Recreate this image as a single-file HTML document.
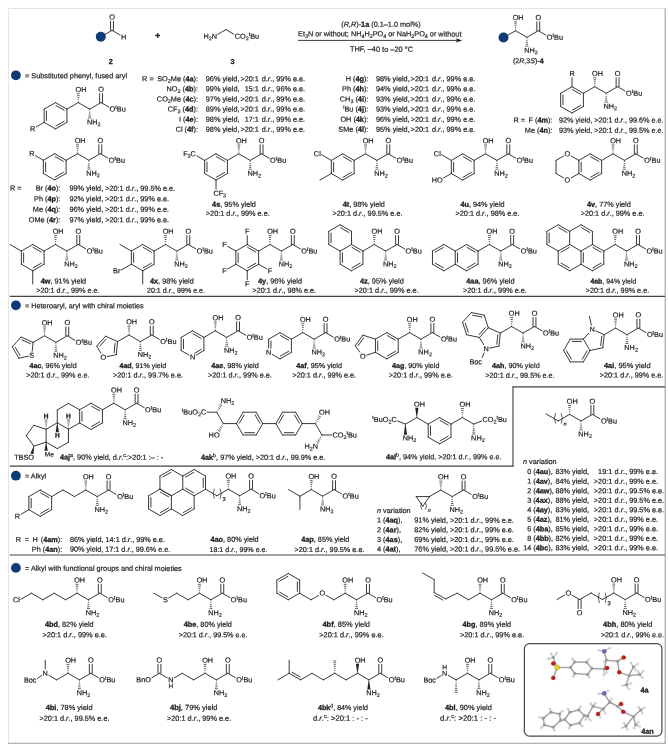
<!DOCTYPE html>
<html><head><meta charset="utf-8"><title>Substrate scope</title>
<style>
html,body{margin:0;padding:0;background:#fff;}
svg{display:block;will-change:transform;text-rendering:geometricPrecision;font-family:"Liberation Sans",sans-serif;}
</style></head><body>
<svg width="668" height="749" viewBox="0 0 668 749">
<rect x="0" y="0" width="668" height="749" fill="#fff"/>
<g stroke="#222222" stroke-width="0.90" stroke-linecap="round" fill="none">
<path d="M8.50 8.50L665.20 8.50" stroke="#e4e4e4" stroke-width="1.00" stroke-linecap="butt"/>
<path d="M8.50 8.50L8.50 743.30" stroke="#e4e4e4" stroke-width="1.00" stroke-linecap="butt"/>
<path d="M665.20 8.50L665.20 743.80" stroke="#9c9c9c" stroke-width="1.10" stroke-linecap="butt"/>
<path d="M8.00 743.30L665.70 743.30" stroke="#9c9c9c" stroke-width="1.10" stroke-linecap="butt"/>
<path d="M9.80 296.40L665.00 296.40" stroke="#444444" stroke-width="1.15" stroke-linecap="butt"/>
<path d="M9.80 466.10L513.50 466.10" stroke="#444444" stroke-width="1.15" stroke-linecap="butt"/>
<path d="M513.00 386.80L513.00 466.60" stroke="#444444" stroke-width="1.15" stroke-linecap="butt"/>
<path d="M512.50 386.80L665.00 386.80" stroke="#444444" stroke-width="1.15" stroke-linecap="butt"/>
<path d="M9.80 555.00L665.00 555.00" stroke="#444444" stroke-width="1.15" stroke-linecap="butt"/>
<circle cx="15.90" cy="75.30" r="4.90" fill="#0f3a78" stroke="none"/>
<circle cx="15.90" cy="305.30" r="4.90" fill="#0f3a78" stroke="none"/>
<circle cx="15.90" cy="475.70" r="4.90" fill="#0f3a78" stroke="none"/>
<circle cx="15.90" cy="567.90" r="4.90" fill="#0f3a78" stroke="none"/>
<path d="M100.50 37.00L112.00 30.40"/>
<path d="M113.45 30.40L113.45 21.21"/>
<path d="M110.55 30.40L110.55 21.21"/>
<path d="M112.00 30.40L120.06 34.99"/>
<circle cx="100.80" cy="36.80" r="5.00" fill="#0f3a78" stroke="none"/>
<path d="M217.84 34.28L226.00 29.60"/>
<path d="M226.00 29.60L233.86 34.22"/>
<path d="M298.00 40.40L459.00 40.40" stroke-linecap="butt"/>
<polygon points="462.30,40.40 455.80,38.30 457.20,40.40 455.80,42.50" fill="#222222" stroke="none"/>
<path d="M515.50 30.70L504.11 37.27"/>
<path d="M515.50 30.70L526.89 37.27"/>
<path d="M526.89 37.27L538.28 30.70"/>
<path d="M538.28 30.70L545.93 35.12"/>
<path d="M539.73 30.70L539.73 21.76"/>
<path d="M536.83 30.70L536.83 21.76"/>
<path d="M515.15 29.54L515.85 29.54" stroke-width="0.70" stroke-linecap="butt"/>
<path d="M514.85 27.62L516.15 27.62" stroke-width="0.70" stroke-linecap="butt"/>
<path d="M514.56 25.69L516.44 25.69" stroke-width="0.70" stroke-linecap="butt"/>
<path d="M514.26 23.76L516.74 23.76" stroke-width="0.70" stroke-linecap="butt"/>
<path d="M513.97 21.83L517.03 21.83" stroke-width="0.70" stroke-linecap="butt"/>
<path d="M527.24 38.43L526.54 38.43" stroke-width="0.70" stroke-linecap="butt"/>
<path d="M527.54 40.34L526.24 40.34" stroke-width="0.70" stroke-linecap="butt"/>
<path d="M527.83 42.26L525.95 42.26" stroke-width="0.70" stroke-linecap="butt"/>
<path d="M528.13 44.18L525.65 44.18" stroke-width="0.70" stroke-linecap="butt"/>
<path d="M528.42 46.09L525.36 46.09" stroke-width="0.70" stroke-linecap="butt"/>
<circle cx="503.51" cy="37.48" r="5.00" fill="#0f3a78" stroke="none"/>
<path d="M78.30 102.60L66.91 109.17"/>
<path d="M78.30 102.60L89.69 109.17"/>
<path d="M89.69 109.17L101.08 102.60"/>
<path d="M101.08 102.60L108.73 107.02"/>
<path d="M102.53 102.60L102.53 93.66"/>
<path d="M99.63 102.60L99.63 93.66"/>
<path d="M77.95 101.44L78.65 101.44" stroke-width="0.70" stroke-linecap="butt"/>
<path d="M77.65 99.52L78.95 99.52" stroke-width="0.70" stroke-linecap="butt"/>
<path d="M77.36 97.59L79.24 97.59" stroke-width="0.70" stroke-linecap="butt"/>
<path d="M77.06 95.66L79.54 95.66" stroke-width="0.70" stroke-linecap="butt"/>
<path d="M76.77 93.73L79.83 93.73" stroke-width="0.70" stroke-linecap="butt"/>
<path d="M90.04 110.33L89.34 110.33" stroke-width="0.70" stroke-linecap="butt"/>
<path d="M90.34 112.24L89.04 112.24" stroke-width="0.70" stroke-linecap="butt"/>
<path d="M90.63 114.16L88.75 114.16" stroke-width="0.70" stroke-linecap="butt"/>
<path d="M90.93 116.08L88.45 116.08" stroke-width="0.70" stroke-linecap="butt"/>
<path d="M91.22 117.99L88.16 117.99" stroke-width="0.70" stroke-linecap="butt"/>
<path d="M55.52 102.60L66.91 109.17"/>
<path d="M55.96 105.51L64.18 110.25"/>
<path d="M66.91 109.17L66.91 122.33"/>
<path d="M66.91 122.33L55.52 128.90"/>
<path d="M64.18 121.25L55.96 125.99"/>
<path d="M55.52 128.90L44.14 122.33"/>
<path d="M44.14 122.33L44.14 109.17"/>
<path d="M46.44 120.50L46.44 111.00"/>
<path d="M44.14 109.17L55.52 102.60"/>
<path d="M44.14 122.33L36.28 126.86"/>
<path d="M594.80 86.70L583.41 93.28"/>
<path d="M594.80 86.70L606.19 93.28"/>
<path d="M606.19 93.28L617.58 86.70"/>
<path d="M617.58 86.70L625.23 91.12"/>
<path d="M619.03 86.70L619.03 77.76"/>
<path d="M616.13 86.70L616.13 77.76"/>
<path d="M594.45 85.54L595.15 85.54" stroke-width="0.70" stroke-linecap="butt"/>
<path d="M594.15 83.62L595.45 83.62" stroke-width="0.70" stroke-linecap="butt"/>
<path d="M593.86 81.69L595.74 81.69" stroke-width="0.70" stroke-linecap="butt"/>
<path d="M593.56 79.76L596.04 79.76" stroke-width="0.70" stroke-linecap="butt"/>
<path d="M593.27 77.83L596.33 77.83" stroke-width="0.70" stroke-linecap="butt"/>
<path d="M606.54 94.43L605.84 94.43" stroke-width="0.70" stroke-linecap="butt"/>
<path d="M606.84 96.34L605.54 96.34" stroke-width="0.70" stroke-linecap="butt"/>
<path d="M607.13 98.26L605.25 98.26" stroke-width="0.70" stroke-linecap="butt"/>
<path d="M607.43 100.18L604.95 100.18" stroke-width="0.70" stroke-linecap="butt"/>
<path d="M607.72 102.09L604.66 102.09" stroke-width="0.70" stroke-linecap="butt"/>
<path d="M572.02 86.70L583.41 93.28"/>
<path d="M572.46 89.61L580.68 94.35"/>
<path d="M583.41 93.28L583.41 106.43"/>
<path d="M583.41 106.43L572.02 113.00"/>
<path d="M580.68 105.35L572.46 110.09"/>
<path d="M572.02 113.00L560.64 106.43"/>
<path d="M560.64 106.43L560.64 93.28"/>
<path d="M562.94 104.60L562.94 95.10"/>
<path d="M560.64 93.28L572.02 86.70"/>
<path d="M572.02 86.70L572.02 77.76"/>
<path d="M77.50 153.70L66.11 160.27"/>
<path d="M77.50 153.70L88.89 160.27"/>
<path d="M88.89 160.27L100.28 153.70"/>
<path d="M100.28 153.70L107.93 158.12"/>
<path d="M101.73 153.70L101.73 144.76"/>
<path d="M98.83 153.70L98.83 144.76"/>
<path d="M77.15 152.54L77.85 152.54" stroke-width="0.70" stroke-linecap="butt"/>
<path d="M76.85 150.62L78.15 150.62" stroke-width="0.70" stroke-linecap="butt"/>
<path d="M76.56 148.69L78.44 148.69" stroke-width="0.70" stroke-linecap="butt"/>
<path d="M76.26 146.76L78.74 146.76" stroke-width="0.70" stroke-linecap="butt"/>
<path d="M75.97 144.83L79.03 144.83" stroke-width="0.70" stroke-linecap="butt"/>
<path d="M89.24 161.43L88.54 161.43" stroke-width="0.70" stroke-linecap="butt"/>
<path d="M89.54 163.34L88.24 163.34" stroke-width="0.70" stroke-linecap="butt"/>
<path d="M89.83 165.26L87.95 165.26" stroke-width="0.70" stroke-linecap="butt"/>
<path d="M90.13 167.18L87.65 167.18" stroke-width="0.70" stroke-linecap="butt"/>
<path d="M90.42 169.09L87.36 169.09" stroke-width="0.70" stroke-linecap="butt"/>
<path d="M54.72 153.70L66.11 160.27"/>
<path d="M55.16 156.61L63.38 161.35"/>
<path d="M66.11 160.27L66.11 173.42"/>
<path d="M66.11 173.42L54.72 180.00"/>
<path d="M63.38 172.35L55.16 177.09"/>
<path d="M54.72 180.00L43.34 173.42"/>
<path d="M43.34 173.42L43.34 160.27"/>
<path d="M45.64 171.60L45.64 162.10"/>
<path d="M43.34 160.27L54.72 153.70"/>
<path d="M43.34 160.27L35.48 155.74"/>
<path d="M238.80 153.80L227.41 160.38"/>
<path d="M238.80 153.80L250.19 160.38"/>
<path d="M250.19 160.38L261.58 153.80"/>
<path d="M261.58 153.80L269.23 158.22"/>
<path d="M263.03 153.80L263.03 144.86"/>
<path d="M260.13 153.80L260.13 144.86"/>
<path d="M238.45 152.64L239.15 152.64" stroke-width="0.70" stroke-linecap="butt"/>
<path d="M238.15 150.72L239.45 150.72" stroke-width="0.70" stroke-linecap="butt"/>
<path d="M237.86 148.79L239.74 148.79" stroke-width="0.70" stroke-linecap="butt"/>
<path d="M237.56 146.86L240.04 146.86" stroke-width="0.70" stroke-linecap="butt"/>
<path d="M237.27 144.93L240.33 144.93" stroke-width="0.70" stroke-linecap="butt"/>
<path d="M250.54 161.53L249.84 161.53" stroke-width="0.70" stroke-linecap="butt"/>
<path d="M250.84 163.44L249.54 163.44" stroke-width="0.70" stroke-linecap="butt"/>
<path d="M251.13 165.36L249.25 165.36" stroke-width="0.70" stroke-linecap="butt"/>
<path d="M251.43 167.28L248.95 167.28" stroke-width="0.70" stroke-linecap="butt"/>
<path d="M251.72 169.19L248.66 169.19" stroke-width="0.70" stroke-linecap="butt"/>
<path d="M216.02 153.80L227.41 160.38"/>
<path d="M216.46 156.71L224.68 161.45"/>
<path d="M227.41 160.38L227.41 173.52"/>
<path d="M227.41 173.52L216.02 180.10"/>
<path d="M224.68 172.45L216.46 177.19"/>
<path d="M216.02 180.10L204.64 173.52"/>
<path d="M204.64 173.52L204.64 160.38"/>
<path d="M206.94 171.70L206.94 162.20"/>
<path d="M204.64 160.38L216.02 153.80"/>
<path d="M204.64 160.38L196.78 155.84"/>
<path d="M216.02 180.10L216.02 189.04"/>
<path d="M365.50 153.80L354.11 160.38"/>
<path d="M365.50 153.80L376.89 160.38"/>
<path d="M376.89 160.38L388.28 153.80"/>
<path d="M388.28 153.80L395.93 158.22"/>
<path d="M389.73 153.80L389.73 144.86"/>
<path d="M386.83 153.80L386.83 144.86"/>
<path d="M365.15 152.64L365.85 152.64" stroke-width="0.70" stroke-linecap="butt"/>
<path d="M364.85 150.72L366.15 150.72" stroke-width="0.70" stroke-linecap="butt"/>
<path d="M364.56 148.79L366.44 148.79" stroke-width="0.70" stroke-linecap="butt"/>
<path d="M364.26 146.86L366.74 146.86" stroke-width="0.70" stroke-linecap="butt"/>
<path d="M363.97 144.93L367.03 144.93" stroke-width="0.70" stroke-linecap="butt"/>
<path d="M377.24 161.53L376.54 161.53" stroke-width="0.70" stroke-linecap="butt"/>
<path d="M377.54 163.44L376.24 163.44" stroke-width="0.70" stroke-linecap="butt"/>
<path d="M377.83 165.36L375.95 165.36" stroke-width="0.70" stroke-linecap="butt"/>
<path d="M378.13 167.28L375.65 167.28" stroke-width="0.70" stroke-linecap="butt"/>
<path d="M378.42 169.19L375.36 169.19" stroke-width="0.70" stroke-linecap="butt"/>
<path d="M342.72 153.80L354.11 160.38"/>
<path d="M343.16 156.71L351.38 161.45"/>
<path d="M354.11 160.38L354.11 173.52"/>
<path d="M354.11 173.52L342.72 180.10"/>
<path d="M351.38 172.45L343.16 177.19"/>
<path d="M342.72 180.10L331.34 173.52"/>
<path d="M331.34 173.52L331.34 160.38"/>
<path d="M333.64 171.70L333.64 162.20"/>
<path d="M331.34 160.38L342.72 153.80"/>
<path d="M331.34 160.38L321.66 154.79"/>
<path d="M331.34 173.52L319.95 180.10"/>
<path d="M485.50 153.80L474.11 160.38"/>
<path d="M485.50 153.80L496.89 160.38"/>
<path d="M496.89 160.38L508.28 153.80"/>
<path d="M508.28 153.80L515.93 158.22"/>
<path d="M509.73 153.80L509.73 144.86"/>
<path d="M506.83 153.80L506.83 144.86"/>
<path d="M485.15 152.64L485.85 152.64" stroke-width="0.70" stroke-linecap="butt"/>
<path d="M484.85 150.72L486.15 150.72" stroke-width="0.70" stroke-linecap="butt"/>
<path d="M484.56 148.79L486.44 148.79" stroke-width="0.70" stroke-linecap="butt"/>
<path d="M484.26 146.86L486.74 146.86" stroke-width="0.70" stroke-linecap="butt"/>
<path d="M483.97 144.93L487.03 144.93" stroke-width="0.70" stroke-linecap="butt"/>
<path d="M497.24 161.53L496.54 161.53" stroke-width="0.70" stroke-linecap="butt"/>
<path d="M497.54 163.44L496.24 163.44" stroke-width="0.70" stroke-linecap="butt"/>
<path d="M497.83 165.36L495.95 165.36" stroke-width="0.70" stroke-linecap="butt"/>
<path d="M498.13 167.28L495.65 167.28" stroke-width="0.70" stroke-linecap="butt"/>
<path d="M498.42 169.19L495.36 169.19" stroke-width="0.70" stroke-linecap="butt"/>
<path d="M462.72 153.80L474.11 160.38"/>
<path d="M463.16 156.71L471.38 161.45"/>
<path d="M474.11 160.38L474.11 173.52"/>
<path d="M474.11 173.52L462.72 180.10"/>
<path d="M471.38 172.45L463.16 177.19"/>
<path d="M462.72 180.10L451.34 173.52"/>
<path d="M451.34 173.52L451.34 160.38"/>
<path d="M453.64 171.70L453.64 162.20"/>
<path d="M451.34 160.38L462.72 153.80"/>
<path d="M451.34 160.38L441.66 154.79"/>
<path d="M451.34 173.52L443.69 177.94"/>
<path d="M613.00 153.80L601.61 160.38"/>
<path d="M613.00 153.80L624.39 160.38"/>
<path d="M624.39 160.38L635.78 153.80"/>
<path d="M635.78 153.80L643.43 158.22"/>
<path d="M637.23 153.80L637.23 144.86"/>
<path d="M634.33 153.80L634.33 144.86"/>
<path d="M612.65 152.64L613.35 152.64" stroke-width="0.70" stroke-linecap="butt"/>
<path d="M612.35 150.72L613.65 150.72" stroke-width="0.70" stroke-linecap="butt"/>
<path d="M612.06 148.79L613.94 148.79" stroke-width="0.70" stroke-linecap="butt"/>
<path d="M611.76 146.86L614.24 146.86" stroke-width="0.70" stroke-linecap="butt"/>
<path d="M611.47 144.93L614.53 144.93" stroke-width="0.70" stroke-linecap="butt"/>
<path d="M624.74 161.53L624.04 161.53" stroke-width="0.70" stroke-linecap="butt"/>
<path d="M625.04 163.44L623.74 163.44" stroke-width="0.70" stroke-linecap="butt"/>
<path d="M625.33 165.36L623.45 165.36" stroke-width="0.70" stroke-linecap="butt"/>
<path d="M625.63 167.28L623.15 167.28" stroke-width="0.70" stroke-linecap="butt"/>
<path d="M625.92 169.19L622.86 169.19" stroke-width="0.70" stroke-linecap="butt"/>
<path d="M590.22 153.80L601.61 160.38"/>
<path d="M590.66 156.71L598.88 161.45"/>
<path d="M601.61 160.38L601.61 173.52"/>
<path d="M601.61 173.52L590.22 180.10"/>
<path d="M598.88 172.45L590.66 177.19"/>
<path d="M590.22 180.10L578.84 173.52"/>
<path d="M578.84 173.52L578.84 160.38"/>
<path d="M581.14 171.70L581.14 162.20"/>
<path d="M578.84 160.38L590.22 153.80"/>
<path d="M578.84 160.38L571.19 155.96"/>
<path d="M563.71 155.96L556.06 160.38"/>
<path d="M556.06 160.38L556.06 173.52"/>
<path d="M556.06 173.52L563.71 177.94"/>
<path d="M571.19 177.94L578.84 173.52"/>
<path d="M55.50 244.50L44.11 251.07"/>
<path d="M55.50 244.50L66.89 251.07"/>
<path d="M66.89 251.07L78.28 244.50"/>
<path d="M78.28 244.50L85.93 248.92"/>
<path d="M79.73 244.50L79.73 235.56"/>
<path d="M76.83 244.50L76.83 235.56"/>
<path d="M55.15 243.34L55.85 243.34" stroke-width="0.70" stroke-linecap="butt"/>
<path d="M54.85 241.42L56.15 241.42" stroke-width="0.70" stroke-linecap="butt"/>
<path d="M54.56 239.49L56.44 239.49" stroke-width="0.70" stroke-linecap="butt"/>
<path d="M54.26 237.56L56.74 237.56" stroke-width="0.70" stroke-linecap="butt"/>
<path d="M53.97 235.63L57.03 235.63" stroke-width="0.70" stroke-linecap="butt"/>
<path d="M67.24 252.23L66.54 252.23" stroke-width="0.70" stroke-linecap="butt"/>
<path d="M67.54 254.14L66.24 254.14" stroke-width="0.70" stroke-linecap="butt"/>
<path d="M67.83 256.06L65.95 256.06" stroke-width="0.70" stroke-linecap="butt"/>
<path d="M68.13 257.98L65.65 257.98" stroke-width="0.70" stroke-linecap="butt"/>
<path d="M68.42 259.89L65.36 259.89" stroke-width="0.70" stroke-linecap="butt"/>
<path d="M32.72 244.50L44.11 251.07"/>
<path d="M33.16 247.41L41.38 252.15"/>
<path d="M44.11 251.07L44.11 264.22"/>
<path d="M44.11 264.22L32.72 270.80"/>
<path d="M41.38 263.15L33.16 267.89"/>
<path d="M32.72 270.80L21.34 264.22"/>
<path d="M21.34 264.22L21.34 251.07"/>
<path d="M23.64 262.40L23.64 252.90"/>
<path d="M21.34 251.07L32.72 244.50"/>
<path d="M21.34 251.07L9.95 244.50"/>
<path d="M32.72 270.80L32.72 283.95"/>
<path d="M165.50 244.50L154.11 251.07"/>
<path d="M165.50 244.50L176.89 251.07"/>
<path d="M176.89 251.07L188.28 244.50"/>
<path d="M188.28 244.50L195.93 248.92"/>
<path d="M189.73 244.50L189.73 235.56"/>
<path d="M186.83 244.50L186.83 235.56"/>
<path d="M165.15 243.34L165.85 243.34" stroke-width="0.70" stroke-linecap="butt"/>
<path d="M164.85 241.42L166.15 241.42" stroke-width="0.70" stroke-linecap="butt"/>
<path d="M164.56 239.49L166.44 239.49" stroke-width="0.70" stroke-linecap="butt"/>
<path d="M164.26 237.56L166.74 237.56" stroke-width="0.70" stroke-linecap="butt"/>
<path d="M163.97 235.63L167.03 235.63" stroke-width="0.70" stroke-linecap="butt"/>
<path d="M177.24 252.23L176.54 252.23" stroke-width="0.70" stroke-linecap="butt"/>
<path d="M177.54 254.14L176.24 254.14" stroke-width="0.70" stroke-linecap="butt"/>
<path d="M177.83 256.06L175.95 256.06" stroke-width="0.70" stroke-linecap="butt"/>
<path d="M178.13 257.98L175.65 257.98" stroke-width="0.70" stroke-linecap="butt"/>
<path d="M178.42 259.89L175.36 259.89" stroke-width="0.70" stroke-linecap="butt"/>
<path d="M142.72 244.50L154.11 251.07"/>
<path d="M143.16 247.41L151.38 252.15"/>
<path d="M154.11 251.07L154.11 264.22"/>
<path d="M154.11 264.22L142.72 270.80"/>
<path d="M151.38 263.15L143.16 267.89"/>
<path d="M142.72 270.80L131.34 264.22"/>
<path d="M131.34 264.22L131.34 251.07"/>
<path d="M133.64 262.40L133.64 252.90"/>
<path d="M131.34 251.07L142.72 244.50"/>
<path d="M131.34 251.07L119.95 244.50"/>
<path d="M131.34 264.22L121.26 270.04"/>
<path d="M142.72 270.80L142.72 283.95"/>
<path d="M270.00 244.50L258.61 251.07"/>
<path d="M270.00 244.50L281.39 251.07"/>
<path d="M281.39 251.07L292.78 244.50"/>
<path d="M292.78 244.50L300.43 248.92"/>
<path d="M294.23 244.50L294.23 235.56"/>
<path d="M291.33 244.50L291.33 235.56"/>
<path d="M269.65 243.34L270.35 243.34" stroke-width="0.70" stroke-linecap="butt"/>
<path d="M269.35 241.42L270.65 241.42" stroke-width="0.70" stroke-linecap="butt"/>
<path d="M269.06 239.49L270.94 239.49" stroke-width="0.70" stroke-linecap="butt"/>
<path d="M268.76 237.56L271.24 237.56" stroke-width="0.70" stroke-linecap="butt"/>
<path d="M268.47 235.63L271.53 235.63" stroke-width="0.70" stroke-linecap="butt"/>
<path d="M281.74 252.23L281.04 252.23" stroke-width="0.70" stroke-linecap="butt"/>
<path d="M282.04 254.14L280.74 254.14" stroke-width="0.70" stroke-linecap="butt"/>
<path d="M282.33 256.06L280.45 256.06" stroke-width="0.70" stroke-linecap="butt"/>
<path d="M282.63 257.98L280.15 257.98" stroke-width="0.70" stroke-linecap="butt"/>
<path d="M282.92 259.89L279.86 259.89" stroke-width="0.70" stroke-linecap="butt"/>
<path d="M247.22 244.50L258.61 251.07"/>
<path d="M247.66 247.41L255.88 252.15"/>
<path d="M258.61 251.07L258.61 264.22"/>
<path d="M258.61 264.22L247.22 270.80"/>
<path d="M255.88 263.15L247.66 267.89"/>
<path d="M247.22 270.80L235.84 264.22"/>
<path d="M235.84 264.22L235.84 251.07"/>
<path d="M238.14 262.40L238.14 252.90"/>
<path d="M235.84 251.07L247.22 244.50"/>
<path d="M247.22 244.50L247.22 235.56"/>
<path d="M235.84 251.07L227.58 246.31"/>
<path d="M235.84 264.22L227.58 268.99"/>
<path d="M247.22 270.80L247.22 279.74"/>
<path d="M258.61 264.22L266.87 268.99"/>
<path d="M374.30 244.50L362.91 251.07"/>
<path d="M374.30 244.50L385.69 251.07"/>
<path d="M385.69 251.07L397.08 244.50"/>
<path d="M397.08 244.50L404.73 248.92"/>
<path d="M398.53 244.50L398.53 235.56"/>
<path d="M395.63 244.50L395.63 235.56"/>
<path d="M373.95 243.34L374.65 243.34" stroke-width="0.70" stroke-linecap="butt"/>
<path d="M373.65 241.42L374.95 241.42" stroke-width="0.70" stroke-linecap="butt"/>
<path d="M373.36 239.49L375.24 239.49" stroke-width="0.70" stroke-linecap="butt"/>
<path d="M373.06 237.56L375.54 237.56" stroke-width="0.70" stroke-linecap="butt"/>
<path d="M372.77 235.63L375.83 235.63" stroke-width="0.70" stroke-linecap="butt"/>
<path d="M386.04 252.23L385.34 252.23" stroke-width="0.70" stroke-linecap="butt"/>
<path d="M386.34 254.14L385.04 254.14" stroke-width="0.70" stroke-linecap="butt"/>
<path d="M386.63 256.06L384.75 256.06" stroke-width="0.70" stroke-linecap="butt"/>
<path d="M386.93 257.98L384.45 257.98" stroke-width="0.70" stroke-linecap="butt"/>
<path d="M387.22 259.89L384.16 259.89" stroke-width="0.70" stroke-linecap="butt"/>
<path d="M351.52 244.50L362.91 251.07"/>
<path d="M351.96 247.41L360.18 252.15"/>
<path d="M362.91 251.07L362.91 264.22"/>
<path d="M362.91 264.22L351.52 270.80"/>
<path d="M360.18 263.15L351.96 267.89"/>
<path d="M351.52 270.80L340.14 264.22"/>
<path d="M340.14 264.22L340.14 251.07"/>
<path d="M342.44 262.40L342.44 252.90"/>
<path d="M340.14 251.07L351.52 244.50"/>
<path d="M340.14 224.77L351.52 231.35"/>
<path d="M340.57 227.68L348.79 232.43"/>
<path d="M351.52 231.35L351.52 244.50"/>
<path d="M340.14 251.07L328.75 244.50"/>
<path d="M328.75 244.50L328.75 231.35"/>
<path d="M331.05 242.67L331.05 233.18"/>
<path d="M328.75 231.35L340.14 224.77"/>
<path d="M489.40 244.50L478.01 251.07"/>
<path d="M489.40 244.50L500.79 251.07"/>
<path d="M500.79 251.07L512.18 244.50"/>
<path d="M512.18 244.50L519.83 248.92"/>
<path d="M513.63 244.50L513.63 235.56"/>
<path d="M510.73 244.50L510.73 235.56"/>
<path d="M489.05 243.34L489.75 243.34" stroke-width="0.70" stroke-linecap="butt"/>
<path d="M488.75 241.42L490.05 241.42" stroke-width="0.70" stroke-linecap="butt"/>
<path d="M488.46 239.49L490.34 239.49" stroke-width="0.70" stroke-linecap="butt"/>
<path d="M488.16 237.56L490.64 237.56" stroke-width="0.70" stroke-linecap="butt"/>
<path d="M487.87 235.63L490.93 235.63" stroke-width="0.70" stroke-linecap="butt"/>
<path d="M501.14 252.23L500.44 252.23" stroke-width="0.70" stroke-linecap="butt"/>
<path d="M501.44 254.14L500.14 254.14" stroke-width="0.70" stroke-linecap="butt"/>
<path d="M501.73 256.06L499.85 256.06" stroke-width="0.70" stroke-linecap="butt"/>
<path d="M502.03 257.98L499.55 257.98" stroke-width="0.70" stroke-linecap="butt"/>
<path d="M502.32 259.89L499.26 259.89" stroke-width="0.70" stroke-linecap="butt"/>
<path d="M466.62 244.50L478.01 251.07"/>
<path d="M467.06 247.41L475.28 252.15"/>
<path d="M478.01 251.07L478.01 264.22"/>
<path d="M478.01 264.22L466.62 270.80"/>
<path d="M475.28 263.15L467.06 267.89"/>
<path d="M466.62 270.80L455.24 264.22"/>
<path d="M455.24 264.22L455.24 251.07"/>
<path d="M457.54 262.40L457.54 252.90"/>
<path d="M455.24 251.07L466.62 244.50"/>
<path d="M443.85 244.50L455.24 251.07"/>
<path d="M455.24 264.22L443.85 270.80"/>
<path d="M443.85 270.80L432.46 264.22"/>
<path d="M443.41 267.89L435.19 263.15"/>
<path d="M432.46 264.22L432.46 251.07"/>
<path d="M432.46 251.07L443.85 244.50"/>
<path d="M435.19 252.15L443.41 247.41"/>
<path d="M615.20 244.50L603.81 251.07"/>
<path d="M615.20 244.50L626.59 251.07"/>
<path d="M626.59 251.07L637.98 244.50"/>
<path d="M637.98 244.50L645.63 248.92"/>
<path d="M639.43 244.50L639.43 235.56"/>
<path d="M636.53 244.50L636.53 235.56"/>
<path d="M614.85 243.34L615.55 243.34" stroke-width="0.70" stroke-linecap="butt"/>
<path d="M614.55 241.42L615.85 241.42" stroke-width="0.70" stroke-linecap="butt"/>
<path d="M614.26 239.49L616.14 239.49" stroke-width="0.70" stroke-linecap="butt"/>
<path d="M613.96 237.56L616.44 237.56" stroke-width="0.70" stroke-linecap="butt"/>
<path d="M613.67 235.63L616.73 235.63" stroke-width="0.70" stroke-linecap="butt"/>
<path d="M626.94 252.23L626.24 252.23" stroke-width="0.70" stroke-linecap="butt"/>
<path d="M627.24 254.14L625.94 254.14" stroke-width="0.70" stroke-linecap="butt"/>
<path d="M627.53 256.06L625.65 256.06" stroke-width="0.70" stroke-linecap="butt"/>
<path d="M627.83 257.98L625.35 257.98" stroke-width="0.70" stroke-linecap="butt"/>
<path d="M628.12 259.89L625.06 259.89" stroke-width="0.70" stroke-linecap="butt"/>
<path d="M592.42 244.50L603.81 251.07"/>
<path d="M592.86 247.41L601.08 252.15"/>
<path d="M603.81 251.07L603.81 264.22"/>
<path d="M603.81 264.22L592.42 270.80"/>
<path d="M601.08 263.15L592.86 267.89"/>
<path d="M592.42 270.80L581.04 264.22"/>
<path d="M581.04 264.22L581.04 251.07"/>
<path d="M583.34 262.40L583.34 252.90"/>
<path d="M581.04 251.07L592.42 244.50"/>
<path d="M581.04 224.77L592.42 231.35"/>
<path d="M581.47 227.68L589.69 232.43"/>
<path d="M592.42 231.35L592.42 244.50"/>
<path d="M581.04 251.07L569.65 244.50"/>
<path d="M569.65 231.35L581.04 224.77"/>
<path d="M581.04 264.22L569.65 270.80"/>
<path d="M569.65 270.80L558.26 264.22"/>
<path d="M569.21 267.89L560.99 263.15"/>
<path d="M558.26 264.22L558.26 251.07"/>
<path d="M558.26 251.07L569.65 244.50"/>
<path d="M560.99 252.15L569.21 247.41"/>
<path d="M558.26 224.77L569.65 231.35"/>
<path d="M558.69 227.68L566.91 232.43"/>
<path d="M569.65 231.35L569.65 244.50"/>
<path d="M558.26 251.07L546.87 244.50"/>
<path d="M546.87 244.50L546.87 231.35"/>
<path d="M549.17 242.67L549.17 233.18"/>
<path d="M546.87 231.35L558.26 224.77"/>
<path d="M44.50 335.80L55.89 342.38"/>
<path d="M55.89 342.38L67.28 335.80"/>
<path d="M67.28 335.80L74.93 340.22"/>
<path d="M68.73 335.80L68.73 326.86"/>
<path d="M65.83 335.80L65.83 326.86"/>
<path d="M44.15 334.64L44.85 334.64" stroke-width="0.70" stroke-linecap="butt"/>
<path d="M43.85 332.72L45.15 332.72" stroke-width="0.70" stroke-linecap="butt"/>
<path d="M43.56 330.79L45.44 330.79" stroke-width="0.70" stroke-linecap="butt"/>
<path d="M43.26 328.86L45.74 328.86" stroke-width="0.70" stroke-linecap="butt"/>
<path d="M42.97 326.93L46.03 326.93" stroke-width="0.70" stroke-linecap="butt"/>
<path d="M56.24 343.53L55.54 343.53" stroke-width="0.70" stroke-linecap="butt"/>
<path d="M56.54 345.44L55.24 345.44" stroke-width="0.70" stroke-linecap="butt"/>
<path d="M56.83 347.36L54.95 347.36" stroke-width="0.70" stroke-linecap="butt"/>
<path d="M57.13 349.28L54.65 349.28" stroke-width="0.70" stroke-linecap="butt"/>
<path d="M57.42 351.19L54.36 351.19" stroke-width="0.70" stroke-linecap="butt"/>
<path d="M44.50 335.80L33.11 342.38"/>
<path d="M33.11 342.38L32.18 351.24"/>
<path d="M28.40 356.16L18.87 358.19"/>
<path d="M18.87 358.19L12.30 346.80"/>
<path d="M19.95 355.45L15.21 347.23"/>
<path d="M12.30 346.80L21.10 337.03"/>
<path d="M21.10 337.03L33.11 342.38"/>
<path d="M21.83 339.87L30.51 343.73"/>
<path d="M129.00 335.00L140.39 341.57"/>
<path d="M140.39 341.57L151.78 335.00"/>
<path d="M151.78 335.00L159.43 339.42"/>
<path d="M153.23 335.00L153.23 326.06"/>
<path d="M150.33 335.00L150.33 326.06"/>
<path d="M128.65 333.84L129.35 333.84" stroke-width="0.70" stroke-linecap="butt"/>
<path d="M128.35 331.92L129.65 331.92" stroke-width="0.70" stroke-linecap="butt"/>
<path d="M128.06 329.99L129.94 329.99" stroke-width="0.70" stroke-linecap="butt"/>
<path d="M127.76 328.06L130.24 328.06" stroke-width="0.70" stroke-linecap="butt"/>
<path d="M127.47 326.13L130.53 326.13" stroke-width="0.70" stroke-linecap="butt"/>
<path d="M140.74 342.73L140.04 342.73" stroke-width="0.70" stroke-linecap="butt"/>
<path d="M141.04 344.64L139.74 344.64" stroke-width="0.70" stroke-linecap="butt"/>
<path d="M141.33 346.56L139.45 346.56" stroke-width="0.70" stroke-linecap="butt"/>
<path d="M141.63 348.48L139.15 348.48" stroke-width="0.70" stroke-linecap="butt"/>
<path d="M141.92 350.39L138.86 350.39" stroke-width="0.70" stroke-linecap="butt"/>
<path d="M129.00 335.00L117.61 341.57"/>
<path d="M117.61 341.57L116.24 354.65"/>
<path d="M115.13 343.15L114.14 352.59"/>
<path d="M116.24 354.65L107.11 356.59"/>
<path d="M100.94 353.17L96.80 346.00"/>
<path d="M96.80 346.00L105.60 336.23"/>
<path d="M99.73 346.18L106.08 339.12"/>
<path d="M105.60 336.23L117.61 341.57"/>
<path d="M215.30 330.80L203.91 337.38"/>
<path d="M215.30 330.80L226.69 337.38"/>
<path d="M226.69 337.38L238.08 330.80"/>
<path d="M238.08 330.80L245.73 335.22"/>
<path d="M239.53 330.80L239.53 321.86"/>
<path d="M236.63 330.80L236.63 321.86"/>
<path d="M214.95 329.64L215.65 329.64" stroke-width="0.70" stroke-linecap="butt"/>
<path d="M214.65 327.72L215.95 327.72" stroke-width="0.70" stroke-linecap="butt"/>
<path d="M214.36 325.79L216.24 325.79" stroke-width="0.70" stroke-linecap="butt"/>
<path d="M214.06 323.86L216.54 323.86" stroke-width="0.70" stroke-linecap="butt"/>
<path d="M213.77 321.93L216.83 321.93" stroke-width="0.70" stroke-linecap="butt"/>
<path d="M227.04 338.53L226.34 338.53" stroke-width="0.70" stroke-linecap="butt"/>
<path d="M227.34 340.44L226.04 340.44" stroke-width="0.70" stroke-linecap="butt"/>
<path d="M227.63 342.36L225.75 342.36" stroke-width="0.70" stroke-linecap="butt"/>
<path d="M227.93 344.28L225.45 344.28" stroke-width="0.70" stroke-linecap="butt"/>
<path d="M228.22 346.19L225.16 346.19" stroke-width="0.70" stroke-linecap="butt"/>
<path d="M192.52 330.80L203.91 337.38"/>
<path d="M192.96 333.71L201.18 338.45"/>
<path d="M203.91 337.38L203.91 350.52"/>
<path d="M203.91 350.52L196.06 355.06"/>
<path d="M201.18 349.45L194.91 353.07"/>
<path d="M188.99 355.06L181.14 350.52"/>
<path d="M181.14 350.52L181.14 337.38"/>
<path d="M183.44 348.70L183.44 339.20"/>
<path d="M181.14 337.38L192.52 330.80"/>
<path d="M302.80 332.60L291.41 339.18"/>
<path d="M302.80 332.60L314.19 339.18"/>
<path d="M314.19 339.18L325.58 332.60"/>
<path d="M325.58 332.60L333.23 337.02"/>
<path d="M327.03 332.60L327.03 323.66"/>
<path d="M324.13 332.60L324.13 323.66"/>
<path d="M302.45 331.44L303.15 331.44" stroke-width="0.70" stroke-linecap="butt"/>
<path d="M302.15 329.52L303.45 329.52" stroke-width="0.70" stroke-linecap="butt"/>
<path d="M301.86 327.59L303.74 327.59" stroke-width="0.70" stroke-linecap="butt"/>
<path d="M301.56 325.66L304.04 325.66" stroke-width="0.70" stroke-linecap="butt"/>
<path d="M301.27 323.73L304.33 323.73" stroke-width="0.70" stroke-linecap="butt"/>
<path d="M314.54 340.33L313.84 340.33" stroke-width="0.70" stroke-linecap="butt"/>
<path d="M314.84 342.24L313.54 342.24" stroke-width="0.70" stroke-linecap="butt"/>
<path d="M315.13 344.16L313.25 344.16" stroke-width="0.70" stroke-linecap="butt"/>
<path d="M315.43 346.08L312.95 346.08" stroke-width="0.70" stroke-linecap="butt"/>
<path d="M315.72 347.99L312.66 347.99" stroke-width="0.70" stroke-linecap="butt"/>
<path d="M280.02 332.60L291.41 339.18"/>
<path d="M280.46 335.51L288.68 340.25"/>
<path d="M291.41 339.18L291.41 352.32"/>
<path d="M291.41 352.32L280.02 358.90"/>
<path d="M288.68 351.25L280.46 355.99"/>
<path d="M280.02 358.90L272.17 354.37"/>
<path d="M268.64 348.11L268.64 339.18"/>
<path d="M270.94 348.11L270.94 341.00"/>
<path d="M268.64 339.18L280.02 332.60"/>
<path d="M409.60 332.60L398.21 339.18"/>
<path d="M409.60 332.60L420.99 339.18"/>
<path d="M420.99 339.18L432.38 332.60"/>
<path d="M432.38 332.60L440.03 337.02"/>
<path d="M433.83 332.60L433.83 323.66"/>
<path d="M430.93 332.60L430.93 323.66"/>
<path d="M409.25 331.44L409.95 331.44" stroke-width="0.70" stroke-linecap="butt"/>
<path d="M408.95 329.52L410.25 329.52" stroke-width="0.70" stroke-linecap="butt"/>
<path d="M408.66 327.59L410.54 327.59" stroke-width="0.70" stroke-linecap="butt"/>
<path d="M408.36 325.66L410.84 325.66" stroke-width="0.70" stroke-linecap="butt"/>
<path d="M408.07 323.73L411.13 323.73" stroke-width="0.70" stroke-linecap="butt"/>
<path d="M421.34 340.33L420.64 340.33" stroke-width="0.70" stroke-linecap="butt"/>
<path d="M421.64 342.24L420.34 342.24" stroke-width="0.70" stroke-linecap="butt"/>
<path d="M421.93 344.16L420.05 344.16" stroke-width="0.70" stroke-linecap="butt"/>
<path d="M422.23 346.08L419.75 346.08" stroke-width="0.70" stroke-linecap="butt"/>
<path d="M422.52 347.99L419.46 347.99" stroke-width="0.70" stroke-linecap="butt"/>
<path d="M386.82 332.60L398.21 339.18"/>
<path d="M387.26 335.51L395.48 340.25"/>
<path d="M398.21 339.18L398.21 352.32"/>
<path d="M398.21 352.32L386.82 358.90"/>
<path d="M395.48 351.25L387.26 355.99"/>
<path d="M386.82 358.90L375.44 352.32"/>
<path d="M375.44 352.32L375.44 339.18"/>
<path d="M377.74 350.50L377.74 341.00"/>
<path d="M375.44 339.18L386.82 332.60"/>
<path d="M375.44 352.32L366.67 355.17"/>
<path d="M359.87 352.18L355.20 345.75"/>
<path d="M355.20 345.75L362.93 335.11"/>
<path d="M358.13 345.62L363.72 337.94"/>
<path d="M362.93 335.11L375.44 339.18"/>
<path d="M511.70 326.50L523.09 333.07"/>
<path d="M523.09 333.07L534.48 326.50"/>
<path d="M534.48 326.50L542.13 330.92"/>
<path d="M535.93 326.50L535.93 317.56"/>
<path d="M533.03 326.50L533.03 317.56"/>
<path d="M511.35 325.34L512.05 325.34" stroke-width="0.70" stroke-linecap="butt"/>
<path d="M511.05 323.42L512.35 323.42" stroke-width="0.70" stroke-linecap="butt"/>
<path d="M510.76 321.49L512.64 321.49" stroke-width="0.70" stroke-linecap="butt"/>
<path d="M510.46 319.56L512.94 319.56" stroke-width="0.70" stroke-linecap="butt"/>
<path d="M510.17 317.63L513.23 317.63" stroke-width="0.70" stroke-linecap="butt"/>
<path d="M523.44 334.23L522.74 334.23" stroke-width="0.70" stroke-linecap="butt"/>
<path d="M523.74 336.14L522.44 336.14" stroke-width="0.70" stroke-linecap="butt"/>
<path d="M524.03 338.06L522.15 338.06" stroke-width="0.70" stroke-linecap="butt"/>
<path d="M524.33 339.98L521.85 339.98" stroke-width="0.70" stroke-linecap="butt"/>
<path d="M524.62 341.89L521.56 341.89" stroke-width="0.70" stroke-linecap="butt"/>
<path d="M511.70 326.50L500.31 333.07"/>
<path d="M500.31 333.07L498.94 346.15"/>
<path d="M497.83 334.65L496.84 344.09"/>
<path d="M498.94 346.15L489.61 348.14"/>
<path d="M483.64 344.67L479.50 337.50"/>
<path d="M488.30 327.73L500.31 333.07"/>
<path d="M479.50 337.50L488.30 327.73"/>
<path d="M479.01 334.60L485.37 327.55"/>
<path d="M488.30 327.73L484.24 315.22"/>
<path d="M484.24 315.22L471.37 312.49"/>
<path d="M481.97 317.09L472.68 315.12"/>
<path d="M471.37 312.49L462.57 322.26"/>
<path d="M462.57 322.26L466.64 334.76"/>
<path d="M465.33 323.29L468.26 332.32"/>
<path d="M466.64 334.76L479.50 337.50"/>
<path d="M484.16 353.10L482.12 357.59"/>
<path d="M615.60 328.10L626.99 334.68"/>
<path d="M626.99 334.68L638.38 328.10"/>
<path d="M638.38 328.10L646.03 332.52"/>
<path d="M639.83 328.10L639.83 319.16"/>
<path d="M636.93 328.10L636.93 319.16"/>
<path d="M615.25 326.94L615.95 326.94" stroke-width="0.70" stroke-linecap="butt"/>
<path d="M614.95 325.02L616.25 325.02" stroke-width="0.70" stroke-linecap="butt"/>
<path d="M614.66 323.09L616.54 323.09" stroke-width="0.70" stroke-linecap="butt"/>
<path d="M614.36 321.16L616.84 321.16" stroke-width="0.70" stroke-linecap="butt"/>
<path d="M614.07 319.23L617.13 319.23" stroke-width="0.70" stroke-linecap="butt"/>
<path d="M627.34 335.83L626.64 335.83" stroke-width="0.70" stroke-linecap="butt"/>
<path d="M627.64 337.74L626.34 337.74" stroke-width="0.70" stroke-linecap="butt"/>
<path d="M627.93 339.66L626.05 339.66" stroke-width="0.70" stroke-linecap="butt"/>
<path d="M628.23 341.58L625.75 341.58" stroke-width="0.70" stroke-linecap="butt"/>
<path d="M628.52 343.49L625.46 343.49" stroke-width="0.70" stroke-linecap="butt"/>
<path d="M615.60 328.10L604.21 334.68"/>
<path d="M604.21 334.68L602.84 347.75"/>
<path d="M601.73 336.25L600.74 345.69"/>
<path d="M602.84 347.75L589.97 350.49"/>
<path d="M589.97 350.49L583.40 339.10"/>
<path d="M583.40 339.10L588.66 333.25"/>
<path d="M595.73 330.90L604.21 334.68"/>
<path d="M583.40 339.10L570.25 339.10"/>
<path d="M581.57 341.40L572.08 341.40"/>
<path d="M570.25 339.10L563.67 350.49"/>
<path d="M563.67 350.49L570.25 361.88"/>
<path d="M566.58 350.92L571.33 359.14"/>
<path d="M570.25 361.88L583.40 361.88"/>
<path d="M583.40 361.88L589.97 350.49"/>
<path d="M582.32 359.14L587.07 350.92"/>
<path d="M591.30 325.11L589.46 316.46"/>
<path d="M113.80 403.20L102.41 409.77"/>
<path d="M113.80 403.20L125.19 409.77"/>
<path d="M125.19 409.77L136.58 403.20"/>
<path d="M136.58 403.20L144.23 407.62"/>
<path d="M138.03 403.20L138.03 394.26"/>
<path d="M135.13 403.20L135.13 394.26"/>
<path d="M113.45 402.04L114.15 402.04" stroke-width="0.70" stroke-linecap="butt"/>
<path d="M113.15 400.12L114.45 400.12" stroke-width="0.70" stroke-linecap="butt"/>
<path d="M112.86 398.19L114.74 398.19" stroke-width="0.70" stroke-linecap="butt"/>
<path d="M112.56 396.26L115.04 396.26" stroke-width="0.70" stroke-linecap="butt"/>
<path d="M112.27 394.33L115.33 394.33" stroke-width="0.70" stroke-linecap="butt"/>
<path d="M125.54 410.93L124.84 410.93" stroke-width="0.70" stroke-linecap="butt"/>
<path d="M125.84 412.84L124.54 412.84" stroke-width="0.70" stroke-linecap="butt"/>
<path d="M126.13 414.76L124.25 414.76" stroke-width="0.70" stroke-linecap="butt"/>
<path d="M126.43 416.68L123.95 416.68" stroke-width="0.70" stroke-linecap="butt"/>
<path d="M126.72 418.59L123.66 418.59" stroke-width="0.70" stroke-linecap="butt"/>
<path d="M91.02 403.20L102.41 409.77"/>
<path d="M91.46 406.11L99.68 410.85"/>
<path d="M102.41 409.77L102.41 422.92"/>
<path d="M102.41 422.92L91.02 429.50"/>
<path d="M99.68 421.85L91.46 426.59"/>
<path d="M91.02 429.50L79.64 422.92"/>
<path d="M79.64 422.92L79.64 409.77"/>
<path d="M81.94 421.10L81.94 411.60"/>
<path d="M79.64 409.77L91.02 403.20"/>
<path d="M79.64 409.77L68.46 403.45"/>
<path d="M68.46 403.45L57.29 409.90"/>
<path d="M57.29 409.90L57.29 422.80"/>
<path d="M57.29 422.80L68.46 429.25"/>
<path d="M68.46 429.25L79.64 422.92"/>
<path d="M68.46 429.25L68.46 442.15"/>
<path d="M68.46 442.15L57.29 448.60"/>
<path d="M57.29 448.60L46.12 442.15"/>
<path d="M46.12 442.15L46.12 429.25"/>
<path d="M46.12 429.25L57.29 422.80"/>
<path d="M46.12 442.15L33.85 446.14"/>
<path d="M33.85 446.14L26.27 435.70"/>
<path d="M26.27 435.70L33.85 425.26"/>
<path d="M33.85 425.26L46.12 429.25"/>
<path d="M45.77 428.05L46.47 428.05" stroke-width="0.70" stroke-linecap="butt"/>
<path d="M45.47 426.04L46.77 426.04" stroke-width="0.70" stroke-linecap="butt"/>
<path d="M45.18 424.04L47.06 424.04" stroke-width="0.70" stroke-linecap="butt"/>
<path d="M44.88 422.03L47.36 422.03" stroke-width="0.70" stroke-linecap="butt"/>
<path d="M44.59 420.03L47.65 420.03" stroke-width="0.70" stroke-linecap="butt"/>
<path d="M68.11 428.05L68.82 428.05" stroke-width="0.70" stroke-linecap="butt"/>
<path d="M67.82 426.04L69.11 426.04" stroke-width="0.70" stroke-linecap="butt"/>
<path d="M67.52 424.04L69.41 424.04" stroke-width="0.70" stroke-linecap="butt"/>
<path d="M67.23 422.03L69.70 422.03" stroke-width="0.70" stroke-linecap="butt"/>
<path d="M66.93 420.03L70.00 420.03" stroke-width="0.70" stroke-linecap="butt"/>
<polygon points="57.48,422.80 57.10,422.80 55.69,432.17 58.89,432.17" fill="#222222" stroke="none"/>
<polygon points="46.31,442.15 45.93,442.15 44.52,450.75 47.72,450.75" fill="#222222" stroke="none"/>
<polygon points="34.04,446.18 33.66,446.09 30.45,453.60 33.57,454.33" fill="#222222" stroke="none"/>
<path d="M262.75 423.60L256.18 434.99"/>
<path d="M256.18 434.99L243.03 434.99"/>
<path d="M254.35 432.69L244.85 432.69"/>
<path d="M243.03 434.99L236.45 423.60"/>
<path d="M236.45 423.60L243.02 412.21"/>
<path d="M239.36 423.17L244.10 414.94"/>
<path d="M243.02 412.21L256.18 412.21"/>
<path d="M256.18 412.21L262.75 423.60"/>
<path d="M255.10 414.94L259.84 423.17"/>
<path d="M302.20 423.60L295.62 434.99"/>
<path d="M295.62 434.99L282.48 434.99"/>
<path d="M293.80 432.69L284.30 432.69"/>
<path d="M282.48 434.99L275.90 423.60"/>
<path d="M275.90 423.60L282.48 412.21"/>
<path d="M278.81 423.17L283.55 414.94"/>
<path d="M282.48 412.21L295.62 412.21"/>
<path d="M295.62 412.21L302.20 423.60"/>
<path d="M294.55 414.94L299.29 423.17"/>
<path d="M262.75 423.60L275.90 423.60"/>
<path d="M236.45 423.60L223.30 423.60"/>
<path d="M223.30 423.60L216.72 412.21"/>
<path d="M216.72 412.21L207.11 412.21"/>
<path d="M223.06 424.72L222.45 424.37" stroke-width="0.70" stroke-linecap="butt"/>
<path d="M222.41 426.44L221.29 425.79" stroke-width="0.70" stroke-linecap="butt"/>
<path d="M221.75 428.16L220.12 427.22" stroke-width="0.70" stroke-linecap="butt"/>
<path d="M221.10 429.88L218.96 428.65" stroke-width="0.70" stroke-linecap="butt"/>
<path d="M220.45 431.60L217.79 430.07" stroke-width="0.70" stroke-linecap="butt"/>
<path d="M216.97 411.09L217.57 411.44" stroke-width="0.70" stroke-linecap="butt"/>
<path d="M217.62 409.37L218.74 410.02" stroke-width="0.70" stroke-linecap="butt"/>
<path d="M218.27 407.65L219.90 408.59" stroke-width="0.70" stroke-linecap="butt"/>
<path d="M218.92 405.93L221.07 407.17" stroke-width="0.70" stroke-linecap="butt"/>
<path d="M219.58 404.21L222.23 405.74" stroke-width="0.70" stroke-linecap="butt"/>
<path d="M302.20 423.60L315.35 423.60"/>
<path d="M315.35 423.60L321.92 434.99"/>
<path d="M321.92 434.99L331.54 434.99"/>
<path d="M315.59 422.48L316.20 422.83" stroke-width="0.70" stroke-linecap="butt"/>
<path d="M316.24 420.76L317.36 421.41" stroke-width="0.70" stroke-linecap="butt"/>
<path d="M316.90 419.04L318.53 419.98" stroke-width="0.70" stroke-linecap="butt"/>
<path d="M317.55 417.32L319.69 418.55" stroke-width="0.70" stroke-linecap="butt"/>
<path d="M318.20 415.60L320.86 417.13" stroke-width="0.70" stroke-linecap="butt"/>
<path d="M321.68 436.11L321.08 435.76" stroke-width="0.70" stroke-linecap="butt"/>
<path d="M321.03 437.83L319.91 437.18" stroke-width="0.70" stroke-linecap="butt"/>
<path d="M320.38 439.55L318.75 438.61" stroke-width="0.70" stroke-linecap="butt"/>
<path d="M319.73 441.27L317.58 440.03" stroke-width="0.70" stroke-linecap="butt"/>
<path d="M319.07 442.99L316.42 441.46" stroke-width="0.70" stroke-linecap="butt"/>
<path d="M439.60 417.55L450.99 424.12"/>
<path d="M440.03 420.46L448.26 425.20"/>
<path d="M450.99 424.12L450.99 437.27"/>
<path d="M450.99 437.27L439.60 443.85"/>
<path d="M448.26 436.20L440.03 440.94"/>
<path d="M439.60 443.85L428.21 437.27"/>
<path d="M428.21 437.27L428.21 424.12"/>
<path d="M430.51 435.45L430.51 425.95"/>
<path d="M428.21 424.12L439.60 417.55"/>
<path d="M450.99 424.12L462.38 417.55"/>
<path d="M462.38 417.55L473.76 424.12"/>
<path d="M473.76 424.12L481.62 420.97"/>
<path d="M428.21 424.12L416.82 417.55"/>
<path d="M416.82 417.55L405.44 424.12"/>
<path d="M405.44 424.12L397.58 420.97"/>
<path d="M462.02 416.38L462.73 416.38" stroke-width="0.70" stroke-linecap="butt"/>
<path d="M461.73 414.43L463.02 414.43" stroke-width="0.70" stroke-linecap="butt"/>
<path d="M461.43 412.49L463.32 412.49" stroke-width="0.70" stroke-linecap="butt"/>
<path d="M461.14 410.54L463.61 410.54" stroke-width="0.70" stroke-linecap="butt"/>
<path d="M460.84 408.59L463.91 408.59" stroke-width="0.70" stroke-linecap="butt"/>
<path d="M474.09 425.18L473.44 425.18" stroke-width="0.70" stroke-linecap="butt"/>
<path d="M474.33 426.93L473.20 426.93" stroke-width="0.70" stroke-linecap="butt"/>
<path d="M474.58 428.69L472.95 428.69" stroke-width="0.70" stroke-linecap="butt"/>
<path d="M474.82 430.45L472.70 430.45" stroke-width="0.70" stroke-linecap="butt"/>
<path d="M475.07 432.20L472.46 432.20" stroke-width="0.70" stroke-linecap="butt"/>
<path d="M475.32 433.96L472.21 433.96" stroke-width="0.70" stroke-linecap="butt"/>
<polygon points="416.63,417.55 417.02,417.55 418.42,407.81 415.22,407.81" fill="#222222" stroke="none"/>
<polygon points="405.63,424.12 405.24,424.12 403.84,434.66 407.04,434.66" fill="#222222" stroke="none"/>
<path d="M569.60 414.40L580.99 420.97"/>
<path d="M580.99 420.97L592.38 414.40"/>
<path d="M592.38 414.40L600.03 418.82"/>
<path d="M593.83 414.40L593.83 405.46"/>
<path d="M590.93 414.40L590.93 405.46"/>
<path d="M569.25 413.24L569.95 413.24" stroke-width="0.70" stroke-linecap="butt"/>
<path d="M568.95 411.32L570.25 411.32" stroke-width="0.70" stroke-linecap="butt"/>
<path d="M568.66 409.39L570.54 409.39" stroke-width="0.70" stroke-linecap="butt"/>
<path d="M568.36 407.46L570.84 407.46" stroke-width="0.70" stroke-linecap="butt"/>
<path d="M568.07 405.53L571.13 405.53" stroke-width="0.70" stroke-linecap="butt"/>
<path d="M581.34 422.13L580.64 422.13" stroke-width="0.70" stroke-linecap="butt"/>
<path d="M581.64 424.04L580.34 424.04" stroke-width="0.70" stroke-linecap="butt"/>
<path d="M581.93 425.96L580.05 425.96" stroke-width="0.70" stroke-linecap="butt"/>
<path d="M582.23 427.88L579.75 427.88" stroke-width="0.70" stroke-linecap="butt"/>
<path d="M582.52 429.79L579.46 429.79" stroke-width="0.70" stroke-linecap="butt"/>
<path d="M569.60 414.40L558.21 420.97"/>
<path d="M558.21 420.97L546.02 413.90"/>
<path d="M555.40 413.40 Q553.10 418.30 555.40 423.20" fill="none" stroke="#222222" stroke-width="0.7"/>
<path d="M561.30 413.40 Q563.60 418.30 561.30 423.20" fill="none" stroke="#222222" stroke-width="0.7"/>
<path d="M85.80 490.00L97.19 496.57"/>
<path d="M97.19 496.57L108.58 490.00"/>
<path d="M108.58 490.00L116.23 494.42"/>
<path d="M110.03 490.00L110.03 481.06"/>
<path d="M107.13 490.00L107.13 481.06"/>
<path d="M85.45 488.84L86.15 488.84" stroke-width="0.70" stroke-linecap="butt"/>
<path d="M85.15 486.92L86.45 486.92" stroke-width="0.70" stroke-linecap="butt"/>
<path d="M84.86 484.99L86.74 484.99" stroke-width="0.70" stroke-linecap="butt"/>
<path d="M84.56 483.06L87.04 483.06" stroke-width="0.70" stroke-linecap="butt"/>
<path d="M84.27 481.13L87.33 481.13" stroke-width="0.70" stroke-linecap="butt"/>
<path d="M97.54 497.73L96.84 497.73" stroke-width="0.70" stroke-linecap="butt"/>
<path d="M97.84 499.64L96.54 499.64" stroke-width="0.70" stroke-linecap="butt"/>
<path d="M98.13 501.56L96.25 501.56" stroke-width="0.70" stroke-linecap="butt"/>
<path d="M98.43 503.48L95.95 503.48" stroke-width="0.70" stroke-linecap="butt"/>
<path d="M98.72 505.39L95.66 505.39" stroke-width="0.70" stroke-linecap="butt"/>
<path d="M85.80 490.00L74.41 496.57"/>
<path d="M74.41 496.57L63.02 490.00"/>
<path d="M63.02 490.00L51.64 496.57"/>
<path d="M40.25 490.00L51.64 496.57"/>
<path d="M40.68 492.91L48.90 497.65"/>
<path d="M51.64 496.57L51.64 509.72"/>
<path d="M51.64 509.72L40.25 516.30"/>
<path d="M48.90 508.65L40.68 513.39"/>
<path d="M40.25 516.30L28.86 509.72"/>
<path d="M28.86 509.72L28.86 496.57"/>
<path d="M31.16 507.90L31.16 498.40"/>
<path d="M28.86 496.57L40.25 490.00"/>
<path d="M28.86 509.72L21.01 514.26"/>
<path d="M228.30 489.20L239.69 495.77"/>
<path d="M239.69 495.77L251.08 489.20"/>
<path d="M251.08 489.20L258.73 493.62"/>
<path d="M252.53 489.20L252.53 480.26"/>
<path d="M249.63 489.20L249.63 480.26"/>
<path d="M227.95 488.04L228.65 488.04" stroke-width="0.70" stroke-linecap="butt"/>
<path d="M227.65 486.12L228.95 486.12" stroke-width="0.70" stroke-linecap="butt"/>
<path d="M227.36 484.19L229.24 484.19" stroke-width="0.70" stroke-linecap="butt"/>
<path d="M227.06 482.26L229.54 482.26" stroke-width="0.70" stroke-linecap="butt"/>
<path d="M226.77 480.33L229.83 480.33" stroke-width="0.70" stroke-linecap="butt"/>
<path d="M240.04 496.93L239.34 496.93" stroke-width="0.70" stroke-linecap="butt"/>
<path d="M240.34 498.84L239.04 498.84" stroke-width="0.70" stroke-linecap="butt"/>
<path d="M240.63 500.76L238.75 500.76" stroke-width="0.70" stroke-linecap="butt"/>
<path d="M240.93 502.68L238.45 502.68" stroke-width="0.70" stroke-linecap="butt"/>
<path d="M241.22 504.59L238.16 504.59" stroke-width="0.70" stroke-linecap="butt"/>
<path d="M228.30 489.20L216.91 495.77"/>
<path d="M216.91 495.77L205.52 489.20"/>
<path d="M194.14 469.48L205.52 476.05"/>
<path d="M205.52 476.05L205.52 489.20"/>
<path d="M203.22 477.88L203.22 487.37"/>
<path d="M205.52 489.20L194.14 495.77"/>
<path d="M194.14 495.77L182.75 489.20"/>
<path d="M193.70 492.87L185.48 488.12"/>
<path d="M182.75 489.20L182.75 476.05"/>
<path d="M182.75 476.05L194.14 469.48"/>
<path d="M185.48 477.13L193.70 472.38"/>
<path d="M182.75 489.20L171.36 495.77"/>
<path d="M171.36 495.77L159.97 489.20"/>
<path d="M159.97 489.20L159.97 476.05"/>
<path d="M159.97 476.05L171.36 469.48"/>
<path d="M162.70 477.13L170.93 472.38"/>
<path d="M171.36 469.48L182.75 476.05"/>
<path d="M194.14 495.78L194.14 508.93"/>
<path d="M194.14 508.93L182.75 515.50"/>
<path d="M191.40 507.85L183.18 512.59"/>
<path d="M182.75 515.50L171.36 508.93"/>
<path d="M171.36 508.93L171.36 495.78"/>
<path d="M159.97 489.20L171.36 495.78"/>
<path d="M160.40 492.11L168.63 496.85"/>
<path d="M171.36 508.93L159.97 515.50"/>
<path d="M168.63 507.85L160.40 512.59"/>
<path d="M159.97 515.50L148.58 508.93"/>
<path d="M148.58 508.93L148.58 495.78"/>
<path d="M150.88 507.10L150.88 497.60"/>
<path d="M148.58 495.78L159.97 489.20"/>
<path d="M214.20 489.00 Q211.90 493.70 214.20 498.40" fill="none" stroke="#222222" stroke-width="0.7"/>
<path d="M220.20 489.00 Q222.50 493.70 220.20 498.40" fill="none" stroke="#222222" stroke-width="0.7"/>
<path d="M311.30 489.60L322.69 496.18"/>
<path d="M322.69 496.18L334.08 489.60"/>
<path d="M334.08 489.60L341.73 494.02"/>
<path d="M335.53 489.60L335.53 480.66"/>
<path d="M332.63 489.60L332.63 480.66"/>
<path d="M310.95 488.44L311.65 488.44" stroke-width="0.70" stroke-linecap="butt"/>
<path d="M310.65 486.52L311.95 486.52" stroke-width="0.70" stroke-linecap="butt"/>
<path d="M310.36 484.59L312.24 484.59" stroke-width="0.70" stroke-linecap="butt"/>
<path d="M310.06 482.66L312.54 482.66" stroke-width="0.70" stroke-linecap="butt"/>
<path d="M309.77 480.73L312.83 480.73" stroke-width="0.70" stroke-linecap="butt"/>
<path d="M323.04 497.33L322.34 497.33" stroke-width="0.70" stroke-linecap="butt"/>
<path d="M323.34 499.24L322.04 499.24" stroke-width="0.70" stroke-linecap="butt"/>
<path d="M323.63 501.16L321.75 501.16" stroke-width="0.70" stroke-linecap="butt"/>
<path d="M323.93 503.08L321.45 503.08" stroke-width="0.70" stroke-linecap="butt"/>
<path d="M324.22 504.99L321.16 504.99" stroke-width="0.70" stroke-linecap="butt"/>
<path d="M311.30 489.60L299.91 496.18"/>
<path d="M299.91 496.18L288.52 489.60"/>
<path d="M299.91 496.18L299.91 509.32"/>
<path d="M440.80 490.00L452.19 496.57"/>
<path d="M452.19 496.57L463.58 490.00"/>
<path d="M463.58 490.00L471.23 494.42"/>
<path d="M465.03 490.00L465.03 481.06"/>
<path d="M462.13 490.00L462.13 481.06"/>
<path d="M440.45 488.84L441.15 488.84" stroke-width="0.70" stroke-linecap="butt"/>
<path d="M440.15 486.92L441.45 486.92" stroke-width="0.70" stroke-linecap="butt"/>
<path d="M439.86 484.99L441.74 484.99" stroke-width="0.70" stroke-linecap="butt"/>
<path d="M439.56 483.06L442.04 483.06" stroke-width="0.70" stroke-linecap="butt"/>
<path d="M439.27 481.13L442.33 481.13" stroke-width="0.70" stroke-linecap="butt"/>
<path d="M452.54 497.73L451.84 497.73" stroke-width="0.70" stroke-linecap="butt"/>
<path d="M452.84 499.64L451.54 499.64" stroke-width="0.70" stroke-linecap="butt"/>
<path d="M453.13 501.56L451.25 501.56" stroke-width="0.70" stroke-linecap="butt"/>
<path d="M453.43 503.48L450.95 503.48" stroke-width="0.70" stroke-linecap="butt"/>
<path d="M453.72 505.39L450.66 505.39" stroke-width="0.70" stroke-linecap="butt"/>
<path d="M440.80 490.00L429.41 496.57"/>
<path d="M429.41 496.57L416.26 496.57"/>
<path d="M416.26 496.57L422.84 506.31"/>
<path d="M422.84 506.31L429.41 496.57"/>
<path d="M421.70 502.80 Q419.40 506.10 421.70 509.40" fill="none" stroke="#222222" stroke-width="0.7"/>
<path d="M425.50 502.80 Q427.80 506.10 425.50 509.40" fill="none" stroke="#222222" stroke-width="0.7"/>
<path d="M77.00 593.20L88.39 599.78"/>
<path d="M88.39 599.78L99.78 593.20"/>
<path d="M99.78 593.20L107.43 597.62"/>
<path d="M101.23 593.20L101.23 584.26"/>
<path d="M98.33 593.20L98.33 584.26"/>
<path d="M76.65 592.04L77.35 592.04" stroke-width="0.70" stroke-linecap="butt"/>
<path d="M76.35 590.12L77.65 590.12" stroke-width="0.70" stroke-linecap="butt"/>
<path d="M76.06 588.19L77.94 588.19" stroke-width="0.70" stroke-linecap="butt"/>
<path d="M75.76 586.26L78.24 586.26" stroke-width="0.70" stroke-linecap="butt"/>
<path d="M75.47 584.33L78.53 584.33" stroke-width="0.70" stroke-linecap="butt"/>
<path d="M88.74 600.93L88.04 600.93" stroke-width="0.70" stroke-linecap="butt"/>
<path d="M89.04 602.84L87.74 602.84" stroke-width="0.70" stroke-linecap="butt"/>
<path d="M89.33 604.76L87.45 604.76" stroke-width="0.70" stroke-linecap="butt"/>
<path d="M89.63 606.68L87.15 606.68" stroke-width="0.70" stroke-linecap="butt"/>
<path d="M89.92 608.59L86.86 608.59" stroke-width="0.70" stroke-linecap="butt"/>
<path d="M77.00 593.20L65.61 599.78"/>
<path d="M65.61 599.78L54.22 593.20"/>
<path d="M54.22 593.20L42.84 599.78"/>
<path d="M42.84 599.78L31.45 593.20"/>
<path d="M31.45 593.20L20.77 599.36"/>
<path d="M199.50 593.20L210.89 599.78"/>
<path d="M210.89 599.78L222.28 593.20"/>
<path d="M222.28 593.20L229.93 597.62"/>
<path d="M223.73 593.20L223.73 584.26"/>
<path d="M220.83 593.20L220.83 584.26"/>
<path d="M199.15 592.04L199.85 592.04" stroke-width="0.70" stroke-linecap="butt"/>
<path d="M198.85 590.12L200.15 590.12" stroke-width="0.70" stroke-linecap="butt"/>
<path d="M198.56 588.19L200.44 588.19" stroke-width="0.70" stroke-linecap="butt"/>
<path d="M198.26 586.26L200.74 586.26" stroke-width="0.70" stroke-linecap="butt"/>
<path d="M197.97 584.33L201.03 584.33" stroke-width="0.70" stroke-linecap="butt"/>
<path d="M211.24 600.93L210.54 600.93" stroke-width="0.70" stroke-linecap="butt"/>
<path d="M211.54 602.84L210.24 602.84" stroke-width="0.70" stroke-linecap="butt"/>
<path d="M211.83 604.76L209.95 604.76" stroke-width="0.70" stroke-linecap="butt"/>
<path d="M212.13 606.68L209.65 606.68" stroke-width="0.70" stroke-linecap="butt"/>
<path d="M212.42 608.59L209.36 608.59" stroke-width="0.70" stroke-linecap="butt"/>
<path d="M199.50 593.20L188.11 599.78"/>
<path d="M188.11 599.78L176.72 593.20"/>
<path d="M176.72 593.20L168.67 597.85"/>
<path d="M162.00 597.85L153.95 593.20"/>
<path d="M345.20 593.20L356.59 599.78"/>
<path d="M356.59 599.78L367.98 593.20"/>
<path d="M367.98 593.20L375.63 597.62"/>
<path d="M369.43 593.20L369.43 584.26"/>
<path d="M366.53 593.20L366.53 584.26"/>
<path d="M344.85 592.04L345.55 592.04" stroke-width="0.70" stroke-linecap="butt"/>
<path d="M344.55 590.12L345.85 590.12" stroke-width="0.70" stroke-linecap="butt"/>
<path d="M344.26 588.19L346.14 588.19" stroke-width="0.70" stroke-linecap="butt"/>
<path d="M343.96 586.26L346.44 586.26" stroke-width="0.70" stroke-linecap="butt"/>
<path d="M343.67 584.33L346.73 584.33" stroke-width="0.70" stroke-linecap="butt"/>
<path d="M356.94 600.93L356.24 600.93" stroke-width="0.70" stroke-linecap="butt"/>
<path d="M357.24 602.84L355.94 602.84" stroke-width="0.70" stroke-linecap="butt"/>
<path d="M357.53 604.76L355.65 604.76" stroke-width="0.70" stroke-linecap="butt"/>
<path d="M357.83 606.68L355.35 606.68" stroke-width="0.70" stroke-linecap="butt"/>
<path d="M358.12 608.59L355.06 608.59" stroke-width="0.70" stroke-linecap="butt"/>
<path d="M345.20 593.20L333.81 599.78"/>
<path d="M333.81 599.78L326.16 595.36"/>
<path d="M318.68 595.36L311.04 599.78"/>
<path d="M311.04 599.78L299.65 593.20"/>
<path d="M288.26 573.48L299.65 580.05"/>
<path d="M299.65 580.05L299.65 593.20"/>
<path d="M297.35 581.88L297.35 591.37"/>
<path d="M299.65 593.20L288.26 599.77"/>
<path d="M288.26 599.77L276.87 593.20"/>
<path d="M287.83 596.87L279.60 592.12"/>
<path d="M276.87 593.20L276.87 580.05"/>
<path d="M276.87 580.05L288.26 573.48"/>
<path d="M279.60 581.13L287.83 576.38"/>
<path d="M480.00 593.20L491.39 599.78"/>
<path d="M491.39 599.78L502.78 593.20"/>
<path d="M502.78 593.20L510.43 597.62"/>
<path d="M504.23 593.20L504.23 584.26"/>
<path d="M501.33 593.20L501.33 584.26"/>
<path d="M479.65 592.04L480.35 592.04" stroke-width="0.70" stroke-linecap="butt"/>
<path d="M479.35 590.12L480.65 590.12" stroke-width="0.70" stroke-linecap="butt"/>
<path d="M479.06 588.19L480.94 588.19" stroke-width="0.70" stroke-linecap="butt"/>
<path d="M478.76 586.26L481.24 586.26" stroke-width="0.70" stroke-linecap="butt"/>
<path d="M478.47 584.33L481.53 584.33" stroke-width="0.70" stroke-linecap="butt"/>
<path d="M491.74 600.93L491.04 600.93" stroke-width="0.70" stroke-linecap="butt"/>
<path d="M492.04 602.84L490.74 602.84" stroke-width="0.70" stroke-linecap="butt"/>
<path d="M492.33 604.76L490.45 604.76" stroke-width="0.70" stroke-linecap="butt"/>
<path d="M492.63 606.68L490.15 606.68" stroke-width="0.70" stroke-linecap="butt"/>
<path d="M492.92 608.59L489.86 608.59" stroke-width="0.70" stroke-linecap="butt"/>
<path d="M480.00 593.20L468.61 599.78"/>
<path d="M468.61 599.78L457.22 593.20"/>
<path d="M457.22 593.20L445.54 598.88"/>
<path d="M445.54 598.88L434.15 592.50"/>
<path d="M442.82 599.99L434.62 595.40"/>
<path d="M434.15 592.50L434.15 579.65"/>
<path d="M434.15 579.65L422.76 573.08"/>
<path d="M613.80 593.00L625.19 599.58"/>
<path d="M625.19 599.58L636.58 593.00"/>
<path d="M636.58 593.00L644.23 597.42"/>
<path d="M638.03 593.00L638.03 584.06"/>
<path d="M635.13 593.00L635.13 584.06"/>
<path d="M613.45 591.84L614.15 591.84" stroke-width="0.70" stroke-linecap="butt"/>
<path d="M613.15 589.92L614.45 589.92" stroke-width="0.70" stroke-linecap="butt"/>
<path d="M612.86 587.99L614.74 587.99" stroke-width="0.70" stroke-linecap="butt"/>
<path d="M612.56 586.06L615.04 586.06" stroke-width="0.70" stroke-linecap="butt"/>
<path d="M612.27 584.13L615.33 584.13" stroke-width="0.70" stroke-linecap="butt"/>
<path d="M625.54 600.73L624.84 600.73" stroke-width="0.70" stroke-linecap="butt"/>
<path d="M625.84 602.64L624.54 602.64" stroke-width="0.70" stroke-linecap="butt"/>
<path d="M626.13 604.56L624.25 604.56" stroke-width="0.70" stroke-linecap="butt"/>
<path d="M626.43 606.48L623.95 606.48" stroke-width="0.70" stroke-linecap="butt"/>
<path d="M626.72 608.39L623.66 608.39" stroke-width="0.70" stroke-linecap="butt"/>
<path d="M613.80 593.00L602.41 599.58"/>
<path d="M602.41 599.58L591.02 593.00"/>
<path d="M591.02 593.00L579.64 599.58"/>
<path d="M579.64 599.58L571.99 595.16"/>
<path d="M564.51 595.16L556.86 599.58"/>
<path d="M578.19 599.58L578.19 608.51"/>
<path d="M581.09 599.58L581.09 608.51"/>
<path d="M599.30 593.00 Q597.00 597.80 599.30 602.60" fill="none" stroke="#222222" stroke-width="0.7"/>
<path d="M605.30 593.00 Q607.60 597.80 605.30 602.60" fill="none" stroke="#222222" stroke-width="0.7"/>
<path d="M68.00 673.30L79.39 679.88"/>
<path d="M79.39 679.88L90.78 673.30"/>
<path d="M90.78 673.30L98.43 677.72"/>
<path d="M92.23 673.30L92.23 664.36"/>
<path d="M89.33 673.30L89.33 664.36"/>
<path d="M67.65 672.14L68.35 672.14" stroke-width="0.70" stroke-linecap="butt"/>
<path d="M67.35 670.22L68.65 670.22" stroke-width="0.70" stroke-linecap="butt"/>
<path d="M67.06 668.29L68.94 668.29" stroke-width="0.70" stroke-linecap="butt"/>
<path d="M66.76 666.36L69.24 666.36" stroke-width="0.70" stroke-linecap="butt"/>
<path d="M66.47 664.43L69.53 664.43" stroke-width="0.70" stroke-linecap="butt"/>
<path d="M79.74 681.03L79.04 681.03" stroke-width="0.70" stroke-linecap="butt"/>
<path d="M80.04 682.94L78.74 682.94" stroke-width="0.70" stroke-linecap="butt"/>
<path d="M80.33 684.86L78.45 684.86" stroke-width="0.70" stroke-linecap="butt"/>
<path d="M80.63 686.78L78.15 686.78" stroke-width="0.70" stroke-linecap="butt"/>
<path d="M80.92 688.69L77.86 688.69" stroke-width="0.70" stroke-linecap="butt"/>
<path d="M68.00 673.30L56.61 679.88"/>
<path d="M56.61 679.88L48.76 675.34"/>
<path d="M45.22 669.09L45.22 660.15"/>
<path d="M41.69 675.56L37.36 678.33"/>
<path d="M205.00 673.30L216.39 679.88"/>
<path d="M216.39 679.88L227.78 673.30"/>
<path d="M227.78 673.30L235.43 677.72"/>
<path d="M229.23 673.30L229.23 664.36"/>
<path d="M226.33 673.30L226.33 664.36"/>
<path d="M204.65 672.14L205.35 672.14" stroke-width="0.70" stroke-linecap="butt"/>
<path d="M204.35 670.22L205.65 670.22" stroke-width="0.70" stroke-linecap="butt"/>
<path d="M204.06 668.29L205.94 668.29" stroke-width="0.70" stroke-linecap="butt"/>
<path d="M203.76 666.36L206.24 666.36" stroke-width="0.70" stroke-linecap="butt"/>
<path d="M203.47 664.43L206.53 664.43" stroke-width="0.70" stroke-linecap="butt"/>
<path d="M216.74 681.03L216.04 681.03" stroke-width="0.70" stroke-linecap="butt"/>
<path d="M217.04 682.94L215.74 682.94" stroke-width="0.70" stroke-linecap="butt"/>
<path d="M217.33 684.86L215.45 684.86" stroke-width="0.70" stroke-linecap="butt"/>
<path d="M217.63 686.78L215.15 686.78" stroke-width="0.70" stroke-linecap="butt"/>
<path d="M217.92 688.69L214.86 688.69" stroke-width="0.70" stroke-linecap="butt"/>
<path d="M205.00 673.30L193.61 679.88"/>
<path d="M193.61 679.88L182.22 673.30"/>
<path d="M182.22 673.30L174.37 677.83"/>
<path d="M167.30 677.83L159.45 673.30"/>
<path d="M159.45 673.30L151.80 677.72"/>
<path d="M160.90 673.30L160.90 664.36"/>
<path d="M158.00 673.30L158.00 664.36"/>
<path d="M357.50 673.30L368.89 679.88"/>
<path d="M368.89 679.88L380.28 673.30"/>
<path d="M380.28 673.30L387.93 677.72"/>
<path d="M381.73 673.30L381.73 664.36"/>
<path d="M378.83 673.30L378.83 664.36"/>
<polygon points="357.31,673.30 357.69,673.30 359.10,663.66 355.90,663.66" fill="#222222" stroke="none"/>
<polygon points="369.08,679.88 368.70,679.88 367.29,689.46 370.49,689.46" fill="#222222" stroke="none"/>
<path d="M357.50 673.30L346.11 679.88"/>
<path d="M346.11 679.88L334.72 673.30"/>
<path d="M334.72 673.30L323.34 679.88"/>
<path d="M323.34 679.88L311.95 673.30"/>
<path d="M311.95 673.30L300.56 679.88"/>
<path d="M300.56 679.88L289.17 673.30"/>
<path d="M300.13 676.97L291.90 672.22"/>
<path d="M289.17 673.30L289.17 660.15"/>
<path d="M289.17 673.30L277.78 679.88"/>
<path d="M334.42 672.17L335.02 672.17" stroke-width="0.70" stroke-linecap="butt"/>
<path d="M334.21 670.29L335.24 670.29" stroke-width="0.70" stroke-linecap="butt"/>
<path d="M334.00 668.42L335.45 668.42" stroke-width="0.70" stroke-linecap="butt"/>
<path d="M333.79 666.54L335.66 666.54" stroke-width="0.70" stroke-linecap="butt"/>
<path d="M333.58 664.66L335.87 664.66" stroke-width="0.70" stroke-linecap="butt"/>
<path d="M333.37 662.78L336.08 662.78" stroke-width="0.70" stroke-linecap="butt"/>
<path d="M333.16 660.90L336.29 660.90" stroke-width="0.70" stroke-linecap="butt"/>
<path d="M467.50 673.30L478.89 679.88"/>
<path d="M478.89 679.88L490.28 673.30"/>
<path d="M490.28 673.30L497.93 677.72"/>
<path d="M491.73 673.30L491.73 664.36"/>
<path d="M488.83 673.30L488.83 664.36"/>
<path d="M467.15 672.14L467.85 672.14" stroke-width="0.70" stroke-linecap="butt"/>
<path d="M466.85 670.22L468.15 670.22" stroke-width="0.70" stroke-linecap="butt"/>
<path d="M466.56 668.29L468.44 668.29" stroke-width="0.70" stroke-linecap="butt"/>
<path d="M466.26 666.36L468.74 666.36" stroke-width="0.70" stroke-linecap="butt"/>
<path d="M465.97 664.43L469.03 664.43" stroke-width="0.70" stroke-linecap="butt"/>
<path d="M479.24 681.03L478.54 681.03" stroke-width="0.70" stroke-linecap="butt"/>
<path d="M479.54 682.94L478.24 682.94" stroke-width="0.70" stroke-linecap="butt"/>
<path d="M479.83 684.86L477.95 684.86" stroke-width="0.70" stroke-linecap="butt"/>
<path d="M480.13 686.78L477.65 686.78" stroke-width="0.70" stroke-linecap="butt"/>
<path d="M480.42 688.69L477.36 688.69" stroke-width="0.70" stroke-linecap="butt"/>
<path d="M467.50 673.30L456.11 679.88"/>
<path d="M456.11 679.88L448.26 675.34"/>
<path d="M441.19 675.56L436.86 678.33"/>
<path d="M456.41 681.00L455.81 681.00" stroke-width="0.70" stroke-linecap="butt"/>
<path d="M456.62 682.88L455.60 682.88" stroke-width="0.70" stroke-linecap="butt"/>
<path d="M456.83 684.76L455.39 684.76" stroke-width="0.70" stroke-linecap="butt"/>
<path d="M457.05 686.64L455.18 686.64" stroke-width="0.70" stroke-linecap="butt"/>
<path d="M457.26 688.52L454.97 688.52" stroke-width="0.70" stroke-linecap="butt"/>
<path d="M457.47 690.39L454.76 690.39" stroke-width="0.70" stroke-linecap="butt"/>
<path d="M457.68 692.27L454.55 692.27" stroke-width="0.70" stroke-linecap="butt"/>
<rect x="524.4" y="643.6" width="137.5" height="92.5" rx="5" ry="5" fill="#fff" stroke="#4a4a4a" stroke-width="1.2"/>
<path d="M557.22 667.46L553.23 663.48" stroke="#a6a6a6" stroke-width="1.50"/>
<path d="M557.22 667.46L553.23 677.88" stroke="#a6a6a6" stroke-width="1.50"/>
<path d="M557.22 667.46L553.23 657.49" stroke="#a6a6a6" stroke-width="1.50"/>
<path d="M557.22 667.46L570.51 667.46" stroke="#a6a6a6" stroke-width="1.50"/>
<path d="M570.51 667.46L574.72 661.93" stroke="#a6a6a6" stroke-width="1.50"/>
<path d="M574.72 661.93L586.46 662.37" stroke="#a6a6a6" stroke-width="1.50"/>
<path d="M586.46 662.37L592.00 668.57" stroke="#a6a6a6" stroke-width="1.50"/>
<path d="M592.00 668.57L587.57 674.55" stroke="#a6a6a6" stroke-width="1.50"/>
<path d="M587.57 674.55L574.72 673.45" stroke="#a6a6a6" stroke-width="1.50"/>
<path d="M574.72 673.45L570.51 667.46" stroke="#a6a6a6" stroke-width="1.50"/>
<path d="M592.00 668.57L604.18 669.01" stroke="#a6a6a6" stroke-width="1.50"/>
<path d="M604.18 669.01L607.06 667.91" stroke="#a6a6a6" stroke-width="1.50"/>
<path d="M604.18 669.01L606.40 660.15" stroke="#a6a6a6" stroke-width="1.50"/>
<path d="M606.40 660.15L604.18 651.29" stroke="#a6a6a6" stroke-width="1.50"/>
<path d="M606.40 660.15L617.47 661.26" stroke="#a6a6a6" stroke-width="1.50"/>
<path d="M617.47 661.26L623.68 657.49" stroke="#a6a6a6" stroke-width="1.50"/>
<path d="M617.47 661.26L619.25 672.34" stroke="#a6a6a6" stroke-width="1.50"/>
<path d="M619.25 672.34L628.99 675.66" stroke="#a6a6a6" stroke-width="1.50"/>
<path d="M628.99 675.66L633.42 666.80" stroke="#a6a6a6" stroke-width="1.50"/>
<path d="M628.99 675.66L639.63 674.55" stroke="#a6a6a6" stroke-width="1.50"/>
<path d="M628.99 675.66L626.34 684.96" stroke="#a6a6a6" stroke-width="1.50"/>
<path d="M553.23 657.49L547.69 659.05" stroke="#b8b8b8" stroke-width="1.10"/>
<circle cx="547.69" cy="659.05" r="1.10" fill="#ececec" stroke="#ababab" stroke-width="0.35"/>
<path d="M553.23 657.49L556.77 653.06" stroke="#b8b8b8" stroke-width="1.10"/>
<circle cx="556.77" cy="653.06" r="1.10" fill="#ececec" stroke="#ababab" stroke-width="0.35"/>
<path d="M553.23 657.49L551.01 653.51" stroke="#b8b8b8" stroke-width="1.10"/>
<circle cx="551.01" cy="653.51" r="1.10" fill="#ececec" stroke="#ababab" stroke-width="0.35"/>
<path d="M574.72 661.93L572.28 658.82" stroke="#b8b8b8" stroke-width="1.10"/>
<circle cx="572.28" cy="658.82" r="1.10" fill="#ececec" stroke="#ababab" stroke-width="0.35"/>
<path d="M586.46 662.37L588.68 659.49" stroke="#b8b8b8" stroke-width="1.10"/>
<circle cx="588.68" cy="659.49" r="1.10" fill="#ececec" stroke="#ababab" stroke-width="0.35"/>
<path d="M574.72 673.45L573.17 676.55" stroke="#b8b8b8" stroke-width="1.10"/>
<circle cx="573.17" cy="676.55" r="1.10" fill="#ececec" stroke="#ababab" stroke-width="0.35"/>
<path d="M587.57 674.55L589.12 677.21" stroke="#b8b8b8" stroke-width="1.10"/>
<circle cx="589.12" cy="677.21" r="1.10" fill="#ececec" stroke="#ababab" stroke-width="0.35"/>
<path d="M604.18 651.29L598.64 650.18" stroke="#b8b8b8" stroke-width="1.10"/>
<circle cx="598.64" cy="650.18" r="1.10" fill="#ececec" stroke="#ababab" stroke-width="0.35"/>
<path d="M604.18 651.29L609.72 647.97" stroke="#b8b8b8" stroke-width="1.10"/>
<circle cx="609.72" cy="647.97" r="1.10" fill="#ececec" stroke="#ababab" stroke-width="0.35"/>
<path d="M606.40 660.15L604.18 661.93" stroke="#b8b8b8" stroke-width="1.10"/>
<circle cx="604.18" cy="661.93" r="1.10" fill="#ececec" stroke="#ababab" stroke-width="0.35"/>
<path d="M604.18 669.01L603.74 675.22" stroke="#b8b8b8" stroke-width="1.10"/>
<circle cx="603.74" cy="675.22" r="1.10" fill="#ececec" stroke="#ababab" stroke-width="0.35"/>
<path d="M607.06 667.91L605.95 673.00" stroke="#b8b8b8" stroke-width="1.10"/>
<circle cx="605.95" cy="673.00" r="1.10" fill="#ececec" stroke="#ababab" stroke-width="0.35"/>
<path d="M633.42 666.80L630.77 662.81" stroke="#b8b8b8" stroke-width="1.10"/>
<circle cx="630.77" cy="662.81" r="1.10" fill="#ececec" stroke="#ababab" stroke-width="0.35"/>
<path d="M633.42 666.80L637.41 664.14" stroke="#b8b8b8" stroke-width="1.10"/>
<circle cx="637.41" cy="664.14" r="1.10" fill="#ececec" stroke="#ababab" stroke-width="0.35"/>
<path d="M633.42 666.80L635.64 670.12" stroke="#b8b8b8" stroke-width="1.10"/>
<circle cx="635.64" cy="670.12" r="1.10" fill="#ececec" stroke="#ababab" stroke-width="0.35"/>
<path d="M639.63 674.55L643.17 671.23" stroke="#b8b8b8" stroke-width="1.10"/>
<circle cx="643.17" cy="671.23" r="1.10" fill="#ececec" stroke="#ababab" stroke-width="0.35"/>
<path d="M639.63 674.55L642.29 677.88" stroke="#b8b8b8" stroke-width="1.10"/>
<circle cx="642.29" cy="677.88" r="1.10" fill="#ececec" stroke="#ababab" stroke-width="0.35"/>
<path d="M639.63 674.55L637.86 671.23" stroke="#b8b8b8" stroke-width="1.10"/>
<circle cx="637.86" cy="671.23" r="1.10" fill="#ececec" stroke="#ababab" stroke-width="0.35"/>
<path d="M626.34 684.96L622.35 685.63" stroke="#b8b8b8" stroke-width="1.10"/>
<circle cx="622.35" cy="685.63" r="1.10" fill="#ececec" stroke="#ababab" stroke-width="0.35"/>
<path d="M626.34 684.96L628.55 688.95" stroke="#b8b8b8" stroke-width="1.10"/>
<circle cx="628.55" cy="688.95" r="1.10" fill="#ececec" stroke="#ababab" stroke-width="0.35"/>
<path d="M626.34 684.96L630.77 683.41" stroke="#b8b8b8" stroke-width="1.10"/>
<circle cx="630.77" cy="683.41" r="1.10" fill="#ececec" stroke="#ababab" stroke-width="0.35"/>
<circle cx="557.22" cy="667.46" r="2.60" fill="#e2d02c" stroke="#a59618" stroke-width="0.35"/>
<circle cx="553.23" cy="663.48" r="2.00" fill="#c41e1a" stroke="#8a1512" stroke-width="0.35"/>
<circle cx="553.23" cy="677.88" r="2.00" fill="#c41e1a" stroke="#8a1512" stroke-width="0.35"/>
<circle cx="553.23" cy="657.49" r="1.30" fill="#a2a2a2" stroke="#858585" stroke-width="0.35"/>
<circle cx="570.51" cy="667.46" r="1.30" fill="#a2a2a2" stroke="#858585" stroke-width="0.35"/>
<circle cx="574.72" cy="661.93" r="1.30" fill="#a2a2a2" stroke="#858585" stroke-width="0.35"/>
<circle cx="586.46" cy="662.37" r="1.30" fill="#a2a2a2" stroke="#858585" stroke-width="0.35"/>
<circle cx="592.00" cy="668.57" r="1.30" fill="#a2a2a2" stroke="#858585" stroke-width="0.35"/>
<circle cx="587.57" cy="674.55" r="1.30" fill="#a2a2a2" stroke="#858585" stroke-width="0.35"/>
<circle cx="574.72" cy="673.45" r="1.30" fill="#a2a2a2" stroke="#858585" stroke-width="0.35"/>
<circle cx="604.18" cy="669.01" r="1.30" fill="#a2a2a2" stroke="#858585" stroke-width="0.35"/>
<circle cx="607.06" cy="667.91" r="2.00" fill="#c41e1a" stroke="#8a1512" stroke-width="0.35"/>
<circle cx="606.40" cy="660.15" r="1.30" fill="#a2a2a2" stroke="#858585" stroke-width="0.35"/>
<circle cx="604.18" cy="651.29" r="2.10" fill="#6468c8" stroke="#43468f" stroke-width="0.35"/>
<circle cx="617.47" cy="661.26" r="1.30" fill="#a2a2a2" stroke="#858585" stroke-width="0.35"/>
<circle cx="623.68" cy="657.49" r="2.00" fill="#c41e1a" stroke="#8a1512" stroke-width="0.35"/>
<circle cx="619.25" cy="672.34" r="2.00" fill="#c41e1a" stroke="#8a1512" stroke-width="0.35"/>
<circle cx="628.99" cy="675.66" r="1.30" fill="#a2a2a2" stroke="#858585" stroke-width="0.35"/>
<circle cx="633.42" cy="666.80" r="1.30" fill="#a2a2a2" stroke="#858585" stroke-width="0.35"/>
<circle cx="639.63" cy="674.55" r="1.30" fill="#a2a2a2" stroke="#858585" stroke-width="0.35"/>
<circle cx="626.34" cy="684.96" r="1.30" fill="#a2a2a2" stroke="#858585" stroke-width="0.35"/>
<path d="M604.18 693.38L609.72 702.24" stroke="#a6a6a6" stroke-width="1.50"/>
<path d="M609.72 702.24L617.47 706.23" stroke="#a6a6a6" stroke-width="1.50"/>
<path d="M617.47 706.23L621.02 704.02" stroke="#a6a6a6" stroke-width="1.50"/>
<path d="M617.47 706.23L623.23 711.77" stroke="#a6a6a6" stroke-width="1.50"/>
<path d="M623.23 711.77L633.42 716.64" stroke="#a6a6a6" stroke-width="1.50"/>
<path d="M633.42 716.64L640.74 710.00" stroke="#a6a6a6" stroke-width="1.50"/>
<path d="M633.42 716.64L635.64 724.84" stroke="#a6a6a6" stroke-width="1.50"/>
<path d="M633.42 716.64L625.89 726.17" stroke="#a6a6a6" stroke-width="1.50"/>
<path d="M609.72 702.24L603.07 708.89" stroke="#a6a6a6" stroke-width="1.50"/>
<path d="M603.07 708.89L597.98 713.99" stroke="#a6a6a6" stroke-width="1.50"/>
<path d="M603.07 708.89L593.11 706.23" stroke="#a6a6a6" stroke-width="1.50"/>
<path d="M593.11 706.23L587.57 715.98" stroke="#a6a6a6" stroke-width="1.50"/>
<path d="M587.57 715.98L584.24 715.54" stroke="#a6a6a6" stroke-width="1.50"/>
<path d="M584.24 715.54L578.71 710.00" stroke="#a6a6a6" stroke-width="1.50"/>
<path d="M578.71 710.00L569.84 712.21" stroke="#a6a6a6" stroke-width="1.50"/>
<path d="M569.84 712.21L564.75 719.52" stroke="#a6a6a6" stroke-width="1.50"/>
<path d="M564.75 719.52L570.51 725.28" stroke="#a6a6a6" stroke-width="1.50"/>
<path d="M570.51 725.28L579.37 723.07" stroke="#a6a6a6" stroke-width="1.50"/>
<path d="M579.37 723.07L584.24 715.54" stroke="#a6a6a6" stroke-width="1.50"/>
<path d="M564.75 719.52L560.54 720.41" stroke="#a6a6a6" stroke-width="1.50"/>
<path d="M560.54 720.41L559.43 713.99" stroke="#a6a6a6" stroke-width="1.50"/>
<path d="M559.43 713.99L551.01 712.21" stroke="#a6a6a6" stroke-width="1.50"/>
<path d="M551.01 712.21L543.26 718.19" stroke="#a6a6a6" stroke-width="1.50"/>
<path d="M543.26 718.19L544.37 725.06" stroke="#a6a6a6" stroke-width="1.50"/>
<path d="M544.37 725.06L553.23 727.28" stroke="#a6a6a6" stroke-width="1.50"/>
<path d="M553.23 727.28L560.54 720.41" stroke="#a6a6a6" stroke-width="1.50"/>
<path d="M604.18 693.38L598.64 693.83" stroke="#b8b8b8" stroke-width="1.10"/>
<circle cx="598.64" cy="693.83" r="1.10" fill="#ececec" stroke="#ababab" stroke-width="0.35"/>
<path d="M604.18 693.38L607.73 690.72" stroke="#b8b8b8" stroke-width="1.10"/>
<circle cx="607.73" cy="690.72" r="1.10" fill="#ececec" stroke="#ababab" stroke-width="0.35"/>
<path d="M609.72 702.24L611.27 698.92" stroke="#b8b8b8" stroke-width="1.10"/>
<circle cx="611.27" cy="698.92" r="1.10" fill="#ececec" stroke="#ababab" stroke-width="0.35"/>
<path d="M603.07 708.89L605.29 713.32" stroke="#b8b8b8" stroke-width="1.10"/>
<circle cx="605.29" cy="713.32" r="1.10" fill="#ececec" stroke="#ababab" stroke-width="0.35"/>
<path d="M597.98 713.99L600.19 717.31" stroke="#b8b8b8" stroke-width="1.10"/>
<circle cx="600.19" cy="717.31" r="1.10" fill="#ececec" stroke="#ababab" stroke-width="0.35"/>
<path d="M593.11 706.23L590.45 703.35" stroke="#b8b8b8" stroke-width="1.10"/>
<circle cx="590.45" cy="703.35" r="1.10" fill="#ececec" stroke="#ababab" stroke-width="0.35"/>
<path d="M593.11 706.23L595.32 703.35" stroke="#b8b8b8" stroke-width="1.10"/>
<circle cx="595.32" cy="703.35" r="1.10" fill="#ececec" stroke="#ababab" stroke-width="0.35"/>
<path d="M587.57 715.98L590.45 720.41" stroke="#b8b8b8" stroke-width="1.10"/>
<circle cx="590.45" cy="720.41" r="1.10" fill="#ececec" stroke="#ababab" stroke-width="0.35"/>
<path d="M587.57 715.98L585.57 719.52" stroke="#b8b8b8" stroke-width="1.10"/>
<circle cx="585.57" cy="719.52" r="1.10" fill="#ececec" stroke="#ababab" stroke-width="0.35"/>
<path d="M578.71 710.00L580.26 706.68" stroke="#b8b8b8" stroke-width="1.10"/>
<circle cx="580.26" cy="706.68" r="1.10" fill="#ececec" stroke="#ababab" stroke-width="0.35"/>
<path d="M569.84 712.21L567.63 708.89" stroke="#b8b8b8" stroke-width="1.10"/>
<circle cx="567.63" cy="708.89" r="1.10" fill="#ececec" stroke="#ababab" stroke-width="0.35"/>
<path d="M570.51 725.28L569.18 728.39" stroke="#b8b8b8" stroke-width="1.10"/>
<circle cx="569.18" cy="728.39" r="1.10" fill="#ececec" stroke="#ababab" stroke-width="0.35"/>
<path d="M579.37 723.07L582.03 726.17" stroke="#b8b8b8" stroke-width="1.10"/>
<circle cx="582.03" cy="726.17" r="1.10" fill="#ececec" stroke="#ababab" stroke-width="0.35"/>
<path d="M559.43 713.99L562.09 711.11" stroke="#b8b8b8" stroke-width="1.10"/>
<circle cx="562.09" cy="711.11" r="1.10" fill="#ececec" stroke="#ababab" stroke-width="0.35"/>
<path d="M551.01 712.21L549.91 708.89" stroke="#b8b8b8" stroke-width="1.10"/>
<circle cx="549.91" cy="708.89" r="1.10" fill="#ececec" stroke="#ababab" stroke-width="0.35"/>
<path d="M543.26 718.19L539.49 717.31" stroke="#b8b8b8" stroke-width="1.10"/>
<circle cx="539.49" cy="717.31" r="1.10" fill="#ececec" stroke="#ababab" stroke-width="0.35"/>
<path d="M544.37 725.06L541.05 727.72" stroke="#b8b8b8" stroke-width="1.10"/>
<circle cx="541.05" cy="727.72" r="1.10" fill="#ececec" stroke="#ababab" stroke-width="0.35"/>
<path d="M553.23 727.28L554.34 730.60" stroke="#b8b8b8" stroke-width="1.10"/>
<circle cx="554.34" cy="730.60" r="1.10" fill="#ececec" stroke="#ababab" stroke-width="0.35"/>
<path d="M640.74 710.00L644.06 707.78" stroke="#b8b8b8" stroke-width="1.10"/>
<circle cx="644.06" cy="707.78" r="1.10" fill="#ececec" stroke="#ababab" stroke-width="0.35"/>
<path d="M640.74 710.00L642.29 713.32" stroke="#b8b8b8" stroke-width="1.10"/>
<circle cx="642.29" cy="713.32" r="1.10" fill="#ececec" stroke="#ababab" stroke-width="0.35"/>
<path d="M640.74 710.00L638.52 707.12" stroke="#b8b8b8" stroke-width="1.10"/>
<circle cx="638.52" cy="707.12" r="1.10" fill="#ececec" stroke="#ababab" stroke-width="0.35"/>
<path d="M635.64 724.84L639.63 726.61" stroke="#b8b8b8" stroke-width="1.10"/>
<circle cx="639.63" cy="726.61" r="1.10" fill="#ececec" stroke="#ababab" stroke-width="0.35"/>
<path d="M635.64 724.84L634.09 728.39" stroke="#b8b8b8" stroke-width="1.10"/>
<circle cx="634.09" cy="728.39" r="1.10" fill="#ececec" stroke="#ababab" stroke-width="0.35"/>
<path d="M635.64 724.84L638.52 722.18" stroke="#b8b8b8" stroke-width="1.10"/>
<circle cx="638.52" cy="722.18" r="1.10" fill="#ececec" stroke="#ababab" stroke-width="0.35"/>
<path d="M625.89 726.17L621.91 727.72" stroke="#b8b8b8" stroke-width="1.10"/>
<circle cx="621.91" cy="727.72" r="1.10" fill="#ececec" stroke="#ababab" stroke-width="0.35"/>
<path d="M625.89 726.17L627.44 729.27" stroke="#b8b8b8" stroke-width="1.10"/>
<circle cx="627.44" cy="729.27" r="1.10" fill="#ececec" stroke="#ababab" stroke-width="0.35"/>
<path d="M625.89 726.17L623.68 723.29" stroke="#b8b8b8" stroke-width="1.10"/>
<circle cx="623.68" cy="723.29" r="1.10" fill="#ececec" stroke="#ababab" stroke-width="0.35"/>
<circle cx="604.18" cy="693.38" r="2.10" fill="#6468c8" stroke="#43468f" stroke-width="0.35"/>
<circle cx="609.72" cy="702.24" r="1.30" fill="#a2a2a2" stroke="#858585" stroke-width="0.35"/>
<circle cx="617.47" cy="706.23" r="1.30" fill="#a2a2a2" stroke="#858585" stroke-width="0.35"/>
<circle cx="621.02" cy="704.02" r="2.00" fill="#c41e1a" stroke="#8a1512" stroke-width="0.35"/>
<circle cx="623.23" cy="711.77" r="2.00" fill="#c41e1a" stroke="#8a1512" stroke-width="0.35"/>
<circle cx="633.42" cy="716.64" r="1.30" fill="#a2a2a2" stroke="#858585" stroke-width="0.35"/>
<circle cx="640.74" cy="710.00" r="1.30" fill="#a2a2a2" stroke="#858585" stroke-width="0.35"/>
<circle cx="635.64" cy="724.84" r="1.30" fill="#a2a2a2" stroke="#858585" stroke-width="0.35"/>
<circle cx="625.89" cy="726.17" r="1.30" fill="#a2a2a2" stroke="#858585" stroke-width="0.35"/>
<circle cx="603.07" cy="708.89" r="1.30" fill="#a2a2a2" stroke="#858585" stroke-width="0.35"/>
<circle cx="597.98" cy="713.99" r="2.00" fill="#c41e1a" stroke="#8a1512" stroke-width="0.35"/>
<circle cx="593.11" cy="706.23" r="1.30" fill="#a2a2a2" stroke="#858585" stroke-width="0.35"/>
<circle cx="587.57" cy="715.98" r="1.30" fill="#a2a2a2" stroke="#858585" stroke-width="0.35"/>
<circle cx="584.24" cy="715.54" r="1.30" fill="#a2a2a2" stroke="#858585" stroke-width="0.35"/>
<circle cx="578.71" cy="710.00" r="1.30" fill="#a2a2a2" stroke="#858585" stroke-width="0.35"/>
<circle cx="569.84" cy="712.21" r="1.30" fill="#a2a2a2" stroke="#858585" stroke-width="0.35"/>
<circle cx="564.75" cy="719.52" r="1.30" fill="#a2a2a2" stroke="#858585" stroke-width="0.35"/>
<circle cx="570.51" cy="725.28" r="1.30" fill="#a2a2a2" stroke="#858585" stroke-width="0.35"/>
<circle cx="579.37" cy="723.07" r="1.30" fill="#a2a2a2" stroke="#858585" stroke-width="0.35"/>
<circle cx="560.54" cy="720.41" r="1.30" fill="#a2a2a2" stroke="#858585" stroke-width="0.35"/>
<circle cx="559.43" cy="713.99" r="1.30" fill="#a2a2a2" stroke="#858585" stroke-width="0.35"/>
<circle cx="551.01" cy="712.21" r="1.30" fill="#a2a2a2" stroke="#858585" stroke-width="0.35"/>
<circle cx="543.26" cy="718.19" r="1.30" fill="#a2a2a2" stroke="#858585" stroke-width="0.35"/>
<circle cx="544.37" cy="725.06" r="1.30" fill="#a2a2a2" stroke="#858585" stroke-width="0.35"/>
<circle cx="553.23" cy="727.28" r="1.30" fill="#a2a2a2" stroke="#858585" stroke-width="0.35"/>
</g>
<g transform="matrix(1 0.0005 -0.0005 1 0 0)" font-size="7.30" fill="#222222" stroke="#222" stroke-width="0.2" xml:space="preserve">
<text x="25.04" y="78.20" font-size="7.30"><tspan>= Substituted phenyl, fused aryl</tspan></text>
<text x="25.15" y="308.20" font-size="7.26"><tspan>= Heteroaryl, aryl with chiral moieties</tspan></text>
<text x="25.24" y="478.60" font-size="7.28"><tspan>= Alkyl</tspan></text>
<text x="25.29" y="570.80" font-size="7.31"><tspan>= Alkyl with functional groups and chiral moieties</tspan></text>
<text x="109.17" y="19.36"><tspan>O</tspan></text>
<text x="120.98" y="39.35"><tspan>H</tspan></text>
<text x="108.80" y="63.86"><tspan font-weight="bold" stroke-width="0.3">2</tspan></text>
<text x="154.99" y="38.54" font-size="9.00"><tspan font-weight="bold" stroke-width="0.3">+</tspan></text>
<text x="203.41" y="38.61"><tspan>H</tspan><tspan font-size="5.40" dy="1.61">2</tspan><tspan dy="-1.61">N</tspan></text>
<text x="234.78" y="38.60"><tspan>CO</tspan><tspan font-size="5.40" dy="1.61">2</tspan><tspan font-size="5.40" dy="-4.23">t</tspan><tspan dy="2.63">Bu</tspan></text>
<text x="230.50" y="64.00"><tspan font-weight="bold" stroke-width="0.3">3</tspan></text>
<text x="341.21" y="26.54" font-size="7.30"><tspan>(</tspan><tspan font-style="italic">R,R</tspan><tspan>)-</tspan><tspan font-weight="bold" stroke-width="0.3">1a</tspan><tspan> (0.1–1.0 mol%)</tspan></text>
<text x="298.12" y="36.16" font-size="7.29"><tspan>Et</tspan><tspan font-size="5.40" dy="1.60">3</tspan><tspan dy="-1.60">N or without; NH</tspan><tspan font-size="5.40" dy="1.60">4</tspan><tspan dy="-1.60">H</tspan><tspan font-size="5.40" dy="1.60">2</tspan><tspan dy="-1.60">PO</tspan><tspan font-size="5.40" dy="1.60">4</tspan><tspan dy="-1.60"> or NaH</tspan><tspan font-size="5.40" dy="1.60">2</tspan><tspan dy="-1.60">PO</tspan><tspan font-size="5.40" dy="1.60">4</tspan><tspan dy="-1.60"> or without</tspan></text>
<text x="350.03" y="51.44" font-size="7.41"><tspan>THF, –40 to –20 °C</tspan></text>
<text x="512.67" y="19.81"><tspan>OH</tspan></text>
<text x="524.28" y="52.43"><tspan>NH</tspan><tspan font-size="5.40" dy="1.61">2</tspan></text>
<text x="535.45" y="19.70"><tspan>O</tspan></text>
<text x="546.85" y="39.41"><tspan>O</tspan><tspan font-size="5.40" dy="-2.63">t</tspan><tspan dy="2.63">Bu</tspan></text>
<text x="512.93" y="62.96" font-size="7.08"><tspan>(2</tspan><tspan font-style="italic">R</tspan><tspan>,3</tspan><tspan font-style="italic">S</tspan><tspan>)-</tspan><tspan font-weight="bold" stroke-width="0.3">4</tspan></text>
<text x="75.51" y="91.93"><tspan>OH</tspan></text>
<text x="87.11" y="124.54"><tspan>NH</tspan><tspan font-size="5.40" dy="1.61">2</tspan></text>
<text x="98.28" y="91.81"><tspan>O</tspan></text>
<text x="109.68" y="111.53"><tspan>O</tspan><tspan font-size="5.40" dy="-2.63">t</tspan><tspan dy="2.63">Bu</tspan></text>
<text x="30.18" y="131.30"><tspan>R</tspan></text>
<text x="157.31" y="81.13"><tspan>SO</tspan><tspan font-size="5.40" dy="1.61">2</tspan><tspan dy="-1.61">Me (</tspan><tspan font-weight="bold" stroke-width="0.3">4a</tspan><tspan>):</tspan></text>
<text x="205.84" y="81.11"><tspan>96% yield,</tspan></text>
<text x="240.47" y="81.09"><tspan>&gt;20:1</tspan></text>
<text x="261.74" y="81.08"><tspan>d.</tspan><tspan font-style="italic">r</tspan><tspan>., 99% e.e.</tspan></text>
<text x="166.65" y="91.26"><tspan>NO</tspan><tspan font-size="5.40" dy="1.61">2</tspan><tspan dy="-1.61"> (</tspan><tspan font-weight="bold" stroke-width="0.3">4b</tspan><tspan>):</tspan></text>
<text x="205.85" y="91.24"><tspan>99% yield,</tspan></text>
<text x="244.74" y="91.22"><tspan>15:1</tspan></text>
<text x="261.75" y="91.21"><tspan>d.</tspan><tspan font-style="italic">r</tspan><tspan>., 96% e.e.</tspan></text>
<text x="156.92" y="101.39"><tspan>CO</tspan><tspan font-size="5.40" dy="1.61">2</tspan><tspan dy="-1.61">Me (</tspan><tspan font-weight="bold" stroke-width="0.3">4c</tspan><tspan>):</tspan></text>
<text x="205.85" y="101.37"><tspan>97% yield,</tspan></text>
<text x="240.48" y="101.35"><tspan>&gt;20:1</tspan></text>
<text x="261.75" y="101.34"><tspan>d.</tspan><tspan font-style="italic">r</tspan><tspan>., 99% e.e.</tspan></text>
<text x="167.88" y="111.52"><tspan>CF</tspan><tspan font-size="5.40" dy="1.61">3</tspan><tspan dy="-1.61"> (</tspan><tspan font-weight="bold" stroke-width="0.3">4d</tspan><tspan>):</tspan></text>
<text x="205.86" y="111.50"><tspan>89% yield,</tspan></text>
<text x="240.48" y="111.48"><tspan>&gt;20:1</tspan></text>
<text x="261.76" y="111.47"><tspan>d.</tspan><tspan font-style="italic">r</tspan><tspan>., 99% e.e.</tspan></text>
<text x="178.99" y="121.64"><tspan>I (</tspan><tspan font-weight="bold" stroke-width="0.3">4e</tspan><tspan>):</tspan></text>
<text x="205.86" y="121.63"><tspan>98% yield,</tspan></text>
<text x="244.75" y="121.61"><tspan>17:1</tspan></text>
<text x="261.76" y="121.60"><tspan>d.</tspan><tspan font-style="italic">r</tspan><tspan>., 99% e.e.</tspan></text>
<text x="175.76" y="131.78"><tspan>Cl (</tspan><tspan font-weight="bold" stroke-width="0.3">4f</tspan><tspan>):</tspan></text>
<text x="205.87" y="131.76"><tspan>98% yield,</tspan></text>
<text x="240.49" y="131.74"><tspan>&gt;20:1</tspan></text>
<text x="261.77" y="131.73"><tspan>d.</tspan><tspan font-style="italic">r</tspan><tspan>., 99% e.e.</tspan></text>
<text x="142.04" y="81.14"><tspan>R</tspan></text>
<text x="149.64" y="81.14"><tspan>=</tspan></text>
<text x="345.73" y="81.04"><tspan>H (</tspan><tspan font-weight="bold" stroke-width="0.3">4g</tspan><tspan>):</tspan></text>
<text x="376.04" y="81.03"><tspan>98% yield,</tspan></text>
<text x="410.67" y="81.01"><tspan>&gt;20:1</tspan></text>
<text x="431.94" y="81.00"><tspan>d.</tspan><tspan font-style="italic">r</tspan><tspan>., 99% e.e.</tspan></text>
<text x="342.08" y="91.17"><tspan>Ph (</tspan><tspan font-weight="bold" stroke-width="0.3">4h</tspan><tspan>):</tspan></text>
<text x="376.05" y="91.16"><tspan>94% yield,</tspan></text>
<text x="410.67" y="91.14"><tspan>&gt;20:1</tspan></text>
<text x="431.95" y="91.13"><tspan>d.</tspan><tspan font-style="italic">r</tspan><tspan>., 99% e.e.</tspan></text>
<text x="339.90" y="101.30"><tspan>CH</tspan><tspan font-size="5.40" dy="1.61">3</tspan><tspan dy="-1.61"> (</tspan><tspan font-weight="bold" stroke-width="0.3">4i</tspan><tspan>):</tspan></text>
<text x="376.05" y="101.29"><tspan>93% yield,</tspan></text>
<text x="410.68" y="101.27"><tspan>&gt;20:1</tspan></text>
<text x="431.95" y="101.26"><tspan>d.</tspan><tspan font-style="italic">r</tspan><tspan>., 99% e.e.</tspan></text>
<text x="343.32" y="111.43"><tspan font-size="5.40" dy="-2.63">i</tspan><tspan dy="2.63">Bu (</tspan><tspan font-weight="bold" stroke-width="0.3">4j</tspan><tspan>):</tspan></text>
<text x="376.06" y="111.42"><tspan>93% yield,</tspan></text>
<text x="410.68" y="111.40"><tspan>&gt;20:1</tspan></text>
<text x="431.96" y="111.39"><tspan>d.</tspan><tspan font-style="italic">r</tspan><tspan>., 99% e.e.</tspan></text>
<text x="340.47" y="121.56"><tspan>OH (</tspan><tspan font-weight="bold" stroke-width="0.3">4k</tspan><tspan>):</tspan></text>
<text x="376.06" y="121.55"><tspan>96% yield,</tspan></text>
<text x="410.69" y="121.53"><tspan>&gt;20:1</tspan></text>
<text x="431.96" y="121.52"><tspan>d.</tspan><tspan font-style="italic">r</tspan><tspan>., 99% e.e.</tspan></text>
<text x="338.45" y="131.69"><tspan>SMe (</tspan><tspan font-weight="bold" stroke-width="0.3">4l</tspan><tspan>):</tspan></text>
<text x="376.07" y="131.68"><tspan>95% yield,</tspan></text>
<text x="410.69" y="131.66"><tspan>&gt;20:1</tspan></text>
<text x="431.97" y="131.65"><tspan>d.</tspan><tspan font-style="italic">r</tspan><tspan>., 99% e.e.</tspan></text>
<text x="592.00" y="75.77"><tspan>OH</tspan></text>
<text x="603.61" y="108.39"><tspan>NH</tspan><tspan font-size="5.40" dy="1.61">2</tspan></text>
<text x="614.78" y="75.66"><tspan>O</tspan></text>
<text x="626.17" y="95.38"><tspan>O</tspan><tspan font-size="5.40" dy="-2.63">t</tspan><tspan dy="2.63">Bu</tspan></text>
<text x="569.43" y="75.68"><tspan>R</tspan></text>
<text x="513.56" y="122.16"><tspan>R =</tspan></text>
<text x="528.53" y="122.15"><tspan>F (</tspan><tspan font-weight="bold" stroke-width="0.3">4m</tspan><tspan>):</tspan></text>
<text x="524.89" y="132.55"><tspan>Me (</tspan><tspan font-weight="bold" stroke-width="0.3">4n</tspan><tspan>):</tspan></text>
<text x="559.06" y="122.13" font-size="7.22"><tspan>92% yield, &gt;20:1 d.</tspan><tspan font-style="italic">r</tspan><tspan>., 99.6% e.e.</tspan></text>
<text x="559.07" y="132.53" font-size="7.22"><tspan>93% yield, &gt;20:1 d.</tspan><tspan font-style="italic">r</tspan><tspan>., 99.5% e.e.</tspan></text>
<text x="74.73" y="143.03"><tspan>OH</tspan></text>
<text x="86.34" y="175.65"><tspan>NH</tspan><tspan font-size="5.40" dy="1.61">2</tspan></text>
<text x="97.51" y="142.91"><tspan>O</tspan></text>
<text x="108.91" y="162.63"><tspan>O</tspan><tspan font-size="5.40" dy="-2.63">t</tspan><tspan dy="2.63">Bu</tspan></text>
<text x="29.39" y="156.10"><tspan>R</tspan></text>
<text x="10.10" y="190.61"><tspan>R =</tspan></text>
<text x="35.76" y="190.60"><tspan>Br (</tspan><tspan font-weight="bold" stroke-width="0.3">4o</tspan><tspan>):</tspan></text>
<text x="69.60" y="190.58"><tspan>99% yield, &gt;20:1 d.</tspan><tspan font-style="italic">r</tspan><tspan>., 99.5% e.e.</tspan></text>
<text x="34.13" y="201.15"><tspan>Ph (</tspan><tspan font-weight="bold" stroke-width="0.3">4p</tspan><tspan>):</tspan></text>
<text x="69.60" y="201.13"><tspan>92% yield, &gt;20:1 d.</tspan><tspan font-style="italic">r</tspan><tspan>., 99% e.e.</tspan></text>
<text x="32.93" y="211.70"><tspan>Me (</tspan><tspan font-weight="bold" stroke-width="0.3">4q</tspan><tspan>):</tspan></text>
<text x="69.61" y="211.68"><tspan>96% yield, &gt;20:1 d.</tspan><tspan font-style="italic">r</tspan><tspan>., 99% e.e.</tspan></text>
<text x="28.87" y="222.25"><tspan>OMe (</tspan><tspan font-weight="bold" stroke-width="0.3">4r</tspan><tspan>):</tspan></text>
<text x="69.61" y="222.23"><tspan>97% yield, &gt;20:1 d.</tspan><tspan font-style="italic">r</tspan><tspan>., 99% e.e.</tspan></text>
<text x="236.03" y="143.05"><tspan>OH</tspan></text>
<text x="247.64" y="175.66"><tspan>NH</tspan><tspan font-size="5.40" dy="1.61">2</tspan></text>
<text x="258.81" y="142.93"><tspan>O</tspan></text>
<text x="270.21" y="162.65"><tspan>O</tspan><tspan font-size="5.40" dy="-2.63">t</tspan><tspan dy="2.63">Bu</tspan></text>
<text x="183.23" y="156.12"><tspan>F</tspan><tspan font-size="5.40" dy="1.61">3</tspan><tspan dy="-1.61">C</tspan></text>
<text x="213.49" y="195.56"><tspan>CF</tspan><tspan font-size="5.40" dy="1.61">3</tspan></text>
<text x="212.19" y="206.61"><tspan font-weight="bold" stroke-width="0.3">4s</tspan><tspan>, 95% yield</tspan></text>
<text x="205.95" y="215.71"><tspan>&gt;20:1 d.</tspan><tspan font-style="italic">r</tspan><tspan>., 99% e.e.</tspan></text>
<text x="362.73" y="142.98"><tspan>OH</tspan></text>
<text x="374.34" y="175.60"><tspan>NH</tspan><tspan font-size="5.40" dy="1.61">2</tspan></text>
<text x="385.51" y="142.87"><tspan>O</tspan></text>
<text x="396.91" y="162.59"><tspan>O</tspan><tspan font-size="5.40" dy="-2.63">t</tspan><tspan dy="2.63">Bu</tspan></text>
<text x="313.94" y="156.06"><tspan>Cl</tspan></text>
<text x="342.80" y="206.54"><tspan font-weight="bold" stroke-width="0.3">4t</tspan><tspan>, 98% yield</tspan></text>
<text x="332.60" y="215.65"><tspan>&gt;20:1 d.</tspan><tspan font-style="italic">r</tspan><tspan>., 99.5% e.e.</tspan></text>
<text x="482.73" y="142.92"><tspan>OH</tspan></text>
<text x="494.34" y="175.54"><tspan>NH</tspan><tspan font-size="5.40" dy="1.61">2</tspan></text>
<text x="505.51" y="142.81"><tspan>O</tspan></text>
<text x="516.91" y="162.53"><tspan>O</tspan><tspan font-size="5.40" dy="-2.63">t</tspan><tspan dy="2.63">Bu</tspan></text>
<text x="433.94" y="156.00"><tspan>Cl</tspan></text>
<text x="431.93" y="182.30"><tspan>HO</tspan></text>
<text x="460.49" y="206.48"><tspan font-weight="bold" stroke-width="0.3">4u</tspan><tspan>, 94% yield</tspan></text>
<text x="455.65" y="215.59"><tspan>&gt;20:1 d.</tspan><tspan font-style="italic">r</tspan><tspan>., 98% e.e.</tspan></text>
<text x="610.23" y="142.86"><tspan>OH</tspan></text>
<text x="621.84" y="175.48"><tspan>NH</tspan><tspan font-size="5.40" dy="1.61">2</tspan></text>
<text x="633.01" y="142.75"><tspan>O</tspan></text>
<text x="644.41" y="162.47"><tspan>O</tspan><tspan font-size="5.40" dy="-2.63">t</tspan><tspan dy="2.63">Bu</tspan></text>
<text x="564.69" y="155.93"><tspan>O</tspan></text>
<text x="564.70" y="182.23"><tspan>O</tspan></text>
<text x="587.09" y="206.42"><tspan font-weight="bold" stroke-width="0.3">4v</tspan><tspan>, 77% yield</tspan></text>
<text x="580.75" y="215.52"><tspan>&gt;20:1 d.</tspan><tspan font-style="italic">r</tspan><tspan>., 99% e.e.</tspan></text>
<text x="52.78" y="233.84"><tspan>OH</tspan></text>
<text x="64.39" y="266.46"><tspan>NH</tspan><tspan font-size="5.40" dy="1.61">2</tspan></text>
<text x="75.55" y="233.73"><tspan>O</tspan></text>
<text x="86.95" y="253.44"><tspan>O</tspan><tspan font-size="5.40" dy="-2.63">t</tspan><tspan dy="2.63">Bu</tspan></text>
<text x="40.89" y="283.49" font-size="7.31"><tspan font-weight="bold" stroke-width="0.3">4w</tspan><tspan>, 91% yield</tspan></text>
<text x="36.40" y="292.70" font-size="7.22"><tspan>&gt;20:1 d.</tspan><tspan font-style="italic">r</tspan><tspan>., 99% e.e.</tspan></text>
<text x="162.78" y="233.78"><tspan>OH</tspan></text>
<text x="174.39" y="266.40"><tspan>NH</tspan><tspan font-size="5.40" dy="1.61">2</tspan></text>
<text x="185.55" y="233.67"><tspan>O</tspan></text>
<text x="196.95" y="253.39"><tspan>O</tspan><tspan font-size="5.40" dy="-2.63">t</tspan><tspan dy="2.63">Bu</tspan></text>
<text x="113.20" y="273.16"><tspan>Br</tspan></text>
<text x="150.14" y="283.44" font-size="7.29"><tspan font-weight="bold" stroke-width="0.3">4x</tspan><tspan>, 98% yield</tspan></text>
<text x="147.15" y="292.64" font-size="7.10"><tspan>20:1 d.</tspan><tspan font-style="italic">r</tspan><tspan>., 99% e.e.</tspan></text>
<text x="267.28" y="233.73"><tspan>OH</tspan></text>
<text x="278.89" y="266.35"><tspan>NH</tspan><tspan font-size="5.40" dy="1.61">2</tspan></text>
<text x="290.05" y="233.62"><tspan>O</tspan></text>
<text x="301.45" y="253.34"><tspan>O</tspan><tspan font-size="5.40" dy="-2.63">t</tspan><tspan dy="2.63">Bu</tspan></text>
<text x="245.11" y="233.64"><tspan>F</tspan></text>
<text x="222.34" y="246.80"><tspan>F</tspan></text>
<text x="222.35" y="273.10"><tspan>F</tspan></text>
<text x="245.14" y="286.24"><tspan>F</tspan></text>
<text x="267.91" y="273.08"><tspan>F</tspan></text>
<text x="258.14" y="283.38" font-size="7.33"><tspan font-weight="bold" stroke-width="0.3">4y</tspan><tspan>, 96% yield</tspan></text>
<text x="252.65" y="292.59" font-size="7.28"><tspan>&gt;20:1 d.</tspan><tspan font-style="italic">r</tspan><tspan>., 98% e.e.</tspan></text>
<text x="371.58" y="233.68"><tspan>OH</tspan></text>
<text x="383.19" y="266.30"><tspan>NH</tspan><tspan font-size="5.40" dy="1.61">2</tspan></text>
<text x="394.35" y="233.57"><tspan>O</tspan></text>
<text x="405.75" y="253.29"><tspan>O</tspan><tspan font-size="5.40" dy="-2.63">t</tspan><tspan dy="2.63">Bu</tspan></text>
<text x="360.14" y="283.33" font-size="7.36"><tspan font-weight="bold" stroke-width="0.3">4z</tspan><tspan>, 95% yield</tspan></text>
<text x="354.65" y="292.54" font-size="7.34"><tspan>&gt;20:1 d.</tspan><tspan font-style="italic">r</tspan><tspan>., 99% e.e.</tspan></text>
<text x="486.68" y="233.62"><tspan>OH</tspan></text>
<text x="498.29" y="266.24"><tspan>NH</tspan><tspan font-size="5.40" dy="1.61">2</tspan></text>
<text x="509.45" y="233.51"><tspan>O</tspan></text>
<text x="520.85" y="253.23"><tspan>O</tspan><tspan font-size="5.40" dy="-2.63">t</tspan><tspan dy="2.63">Bu</tspan></text>
<text x="466.39" y="283.28" font-size="7.36"><tspan font-weight="bold" stroke-width="0.3">4aa</tspan><tspan>, 96% yield</tspan></text>
<text x="463.15" y="292.48" font-size="7.31"><tspan>&gt;20:1 d.</tspan><tspan font-style="italic">r</tspan><tspan>., 99% e.e.</tspan></text>
<text x="612.48" y="233.56"><tspan>OH</tspan></text>
<text x="624.09" y="266.18"><tspan>NH</tspan><tspan font-size="5.40" dy="1.61">2</tspan></text>
<text x="635.25" y="233.45"><tspan>O</tspan></text>
<text x="646.65" y="253.17"><tspan>O</tspan><tspan font-size="5.40" dy="-2.63">t</tspan><tspan dy="2.63">Bu</tspan></text>
<text x="590.54" y="283.22" font-size="6.94"><tspan font-weight="bold" stroke-width="0.3">4ab</tspan><tspan>, 94% yield</tspan></text>
<text x="585.95" y="292.42" font-size="7.24"><tspan>&gt;20:1 d.</tspan><tspan font-style="italic">r</tspan><tspan>., 99% e.e.</tspan></text>
<text x="41.82" y="325.14"><tspan>OH</tspan></text>
<text x="53.43" y="357.76"><tspan>NH</tspan><tspan font-size="5.40" dy="1.61">2</tspan></text>
<text x="64.60" y="325.03"><tspan>O</tspan></text>
<text x="76.00" y="344.75"><tspan>O</tspan><tspan font-size="5.40" dy="-2.63">t</tspan><tspan dy="2.63">Bu</tspan></text>
<text x="29.48" y="357.85"><tspan>S</tspan></text>
<text x="29.68" y="368.00" font-size="7.20"><tspan font-weight="bold" stroke-width="0.3">4ac</tspan><tspan>, 96% yield</tspan></text>
<text x="26.44" y="377.40" font-size="7.22"><tspan>&gt;20:1 d.</tspan><tspan font-style="italic">r</tspan><tspan>., 99% e.e.</tspan></text>
<text x="126.32" y="324.30"><tspan>OH</tspan></text>
<text x="137.93" y="356.92"><tspan>NH</tspan><tspan font-size="5.40" dy="1.61">2</tspan></text>
<text x="149.10" y="324.19"><tspan>O</tspan></text>
<text x="160.50" y="343.91"><tspan>O</tspan><tspan font-size="5.40" dy="-2.63">t</tspan><tspan dy="2.63">Bu</tspan></text>
<text x="100.72" y="359.75"><tspan>O</tspan></text>
<text x="119.68" y="367.95" font-size="7.07"><tspan font-weight="bold" stroke-width="0.3">4ad</tspan><tspan>, 91% yield</tspan></text>
<text x="113.19" y="377.36" font-size="7.30"><tspan>&gt;20:1 d.</tspan><tspan font-style="italic">r</tspan><tspan>., 99.7% e.e.</tspan></text>
<text x="212.62" y="320.06"><tspan>OH</tspan></text>
<text x="224.23" y="352.68"><tspan>NH</tspan><tspan font-size="5.40" dy="1.61">2</tspan></text>
<text x="235.40" y="319.95"><tspan>O</tspan></text>
<text x="246.80" y="339.67"><tspan>O</tspan><tspan font-size="5.40" dy="-2.63">t</tspan><tspan dy="2.63">Bu</tspan></text>
<text x="190.07" y="359.42"><tspan>N</tspan></text>
<text x="211.43" y="367.91" font-size="7.24"><tspan font-weight="bold" stroke-width="0.3">4ae</tspan><tspan>, 98% yield</tspan></text>
<text x="208.19" y="377.31" font-size="7.31"><tspan>&gt;20:1 d.</tspan><tspan font-style="italic">r</tspan><tspan>., 99% e.e.</tspan></text>
<text x="300.12" y="321.81"><tspan>OH</tspan></text>
<text x="311.73" y="354.43"><tspan>NH</tspan><tspan font-size="5.40" dy="1.61">2</tspan></text>
<text x="322.90" y="321.70"><tspan>O</tspan></text>
<text x="334.30" y="341.42"><tspan>O</tspan><tspan font-size="5.40" dy="-2.63">t</tspan><tspan dy="2.63">Bu</tspan></text>
<text x="266.18" y="354.61"><tspan>N</tspan></text>
<text x="296.43" y="367.87" font-size="7.22"><tspan font-weight="bold" stroke-width="0.3">4af</tspan><tspan>, 95% yield</tspan></text>
<text x="292.69" y="377.27" font-size="7.28"><tspan>&gt;20:1 d.</tspan><tspan font-style="italic">r</tspan><tspan>., 99% e.e.</tspan></text>
<text x="406.92" y="321.76"><tspan>OH</tspan></text>
<text x="418.53" y="354.38"><tspan>NH</tspan><tspan font-size="5.40" dy="1.61">2</tspan></text>
<text x="429.70" y="321.65"><tspan>O</tspan></text>
<text x="441.10" y="341.37"><tspan>O</tspan><tspan font-size="5.40" dy="-2.63">t</tspan><tspan dy="2.63">Bu</tspan></text>
<text x="360.27" y="358.62"><tspan>O</tspan></text>
<text x="392.18" y="367.82" font-size="7.18"><tspan font-weight="bold" stroke-width="0.3">4ag</tspan><tspan>, 90% yield</tspan></text>
<text x="388.94" y="377.22" font-size="7.34"><tspan>&gt;20:1 d.</tspan><tspan font-style="italic">r</tspan><tspan>., 99% e.e.</tspan></text>
<text x="509.02" y="315.61"><tspan>OH</tspan></text>
<text x="520.63" y="348.23"><tspan>NH</tspan><tspan font-size="5.40" dy="1.61">2</tspan></text>
<text x="531.80" y="315.50"><tspan>O</tspan></text>
<text x="543.19" y="335.22"><tspan>O</tspan><tspan font-size="5.40" dy="-2.63">t</tspan><tspan dy="2.63">Bu</tspan></text>
<text x="483.61" y="351.06"><tspan>N</tspan></text>
<text x="469.63" y="363.98"><tspan>Boc</tspan></text>
<text x="492.18" y="367.77" font-size="7.21"><tspan font-weight="bold" stroke-width="0.3">4ah</tspan><tspan>, 90% yield</tspan></text>
<text x="485.59" y="377.57" font-size="7.22"><tspan>&gt;20:1 d.</tspan><tspan font-style="italic">r</tspan><tspan>., 99.5% e.e.</tspan></text>
<text x="612.92" y="317.16"><tspan>OH</tspan></text>
<text x="624.53" y="349.78"><tspan>NH</tspan><tspan font-size="5.40" dy="1.61">2</tspan></text>
<text x="635.70" y="317.05"><tspan>O</tspan></text>
<text x="647.09" y="336.76"><tspan>O</tspan><tspan font-size="5.40" dy="-2.63">t</tspan><tspan dy="2.63">Bu</tspan></text>
<text x="589.73" y="331.45"><tspan>N</tspan></text>
<text x="604.18" y="367.71" font-size="7.42"><tspan font-weight="bold" stroke-width="0.3">4ai</tspan><tspan>, 95% yield</tspan></text>
<text x="599.99" y="377.11" font-size="7.25"><tspan>&gt;20:1 d.</tspan><tspan font-style="italic">r</tspan><tspan>., 99% e.e.</tspan></text>
<text x="111.16" y="392.51"><tspan>OH</tspan></text>
<text x="122.76" y="425.13"><tspan>NH</tspan><tspan font-size="5.40" dy="1.61">2</tspan></text>
<text x="133.93" y="392.40"><tspan>O</tspan></text>
<text x="145.33" y="412.12"><tspan>O</tspan><tspan font-size="5.40" dy="-2.63">t</tspan><tspan dy="2.63">Bu</tspan></text>
<text x="43.98" y="418.21" font-size="6.50"><tspan font-weight="bold" stroke-width="0.3">H</tspan></text>
<text x="66.33" y="418.19" font-size="6.50"><tspan font-weight="bold" stroke-width="0.3">H</tspan></text>
<text x="55.16" y="437.39" font-size="6.50"><tspan font-weight="bold" stroke-width="0.3">H</tspan></text>
<text x="45.01" y="456.40" font-size="6.50"><tspan>Me</tspan></text>
<text x="14.39" y="459.81"><tspan>TBSO</tspan></text>
<text x="60.13" y="459.58"><tspan font-weight="bold" stroke-width="0.3">4aj</tspan><tspan font-size="5.40" dy="-2.63">a</tspan><tspan dy="2.63">, 90% yield, d.</tspan><tspan font-style="italic">r</tspan><tspan>.</tspan><tspan font-size="5.40" dy="-2.63">c</tspan><tspan dy="2.63">:&gt;20:1 :– : -</tspan></text>
<text x="208.83" y="437.30"><tspan>HO</tspan></text>
<text x="220.87" y="403.13"><tspan>NH</tspan><tspan font-size="5.40" dy="1.61">2</tspan></text>
<text x="182.03" y="414.53"><tspan font-size="5.40" dy="-2.63">t</tspan><tspan dy="2.63">BuO</tspan><tspan font-size="5.40" dy="1.61">2</tspan><tspan dy="-1.61">C</tspan></text>
<text x="319.29" y="414.47"><tspan>OH</tspan></text>
<text x="304.66" y="448.64"><tspan>H</tspan><tspan font-size="5.40" dy="1.61">2</tspan><tspan dy="-1.61">N</tspan></text>
<text x="332.66" y="437.24"><tspan>CO</tspan><tspan font-size="5.40" dy="1.61">2</tspan><tspan font-size="5.40" dy="-4.23">t</tspan><tspan dy="2.63">Bu</tspan></text>
<text x="201.23" y="459.71" font-size="7.28"><tspan font-weight="bold" stroke-width="0.3">4ak</tspan><tspan font-size="5.39" dy="-2.62">b</tspan><tspan dy="2.62">, 97% yield, &gt;20:1 d.</tspan><tspan font-style="italic">r</tspan><tspan>., 99.9% e.e.</tspan></text>
<text x="459.74" y="406.58"><tspan>OH</tspan></text>
<text x="471.35" y="440.25"><tspan>NH</tspan><tspan font-size="5.40" dy="1.61">2</tspan></text>
<text x="482.73" y="421.72"><tspan>CO</tspan><tspan font-size="5.40" dy="1.61">2</tspan><tspan font-size="5.40" dy="-4.23">t</tspan><tspan dy="2.63">Bu</tspan></text>
<text x="414.19" y="406.61"><tspan>OH</tspan></text>
<text x="403.02" y="440.29"><tspan>NH</tspan><tspan font-size="5.40" dy="1.61">2</tspan></text>
<text x="372.51" y="421.78"><tspan font-size="5.40" dy="-2.63">t</tspan><tspan dy="2.63">BuO</tspan><tspan font-size="5.40" dy="1.61">2</tspan><tspan dy="-1.61">C</tspan></text>
<text x="386.23" y="459.02" font-size="7.22"><tspan font-weight="bold" stroke-width="0.3">4al</tspan><tspan font-size="5.34" dy="-2.60">b</tspan><tspan dy="2.60">, 94% yield, &gt;20:1 d.</tspan><tspan font-style="italic">r</tspan><tspan>., 99% e.e.</tspan></text>
<text x="566.96" y="403.48"><tspan>OH</tspan></text>
<text x="578.57" y="436.10"><tspan>NH</tspan><tspan font-size="5.40" dy="1.61">2</tspan></text>
<text x="589.74" y="403.37"><tspan>O</tspan></text>
<text x="601.14" y="423.09"><tspan>O</tspan><tspan font-size="5.40" dy="-2.63">t</tspan><tspan dy="2.63">Bu</tspan></text>
<text x="563.81" y="425.52" font-size="5.60"><tspan font-style="italic">n</tspan></text>
<text x="523.23" y="463.75"><tspan font-style="italic">n</tspan><tspan> variation</tspan></text>
<text x="527.58" y="473.85"><tspan>0</tspan></text>
<text x="533.44" y="473.85"><tspan>(</tspan><tspan font-weight="bold" stroke-width="0.3">4au</tspan><tspan>),</tspan></text>
<text x="555.64" y="473.84"><tspan>83% yield,</tspan></text>
<text x="598.33" y="473.81"><tspan>19:1</tspan></text>
<text x="614.84" y="473.81"><tspan>d.</tspan><tspan font-style="italic">r</tspan><tspan>., 99% e.e.</tspan></text>
<text x="527.58" y="483.37"><tspan>1</tspan></text>
<text x="533.44" y="483.37"><tspan>(</tspan><tspan font-weight="bold" stroke-width="0.3">4av</tspan><tspan>),</tspan></text>
<text x="555.64" y="483.36"><tspan>84% yield,</tspan></text>
<text x="594.07" y="483.34"><tspan>&gt;20:1</tspan></text>
<text x="614.84" y="483.33"><tspan>d.</tspan><tspan font-style="italic">r</tspan><tspan>., 99% e.e.</tspan></text>
<text x="527.59" y="492.89"><tspan>2</tspan></text>
<text x="533.45" y="492.89"><tspan>(</tspan><tspan font-weight="bold" stroke-width="0.3">4aw</tspan><tspan>),</tspan></text>
<text x="555.65" y="492.88"><tspan>88% yield,</tspan></text>
<text x="594.08" y="492.86"><tspan>&gt;20:1</tspan></text>
<text x="614.85" y="492.85"><tspan>d.</tspan><tspan font-style="italic">r</tspan><tspan>., 99.5% e.e.</tspan></text>
<text x="527.59" y="502.41"><tspan>3</tspan></text>
<text x="533.45" y="502.41"><tspan>(</tspan><tspan font-weight="bold" stroke-width="0.3">4ax</tspan><tspan>),</tspan></text>
<text x="555.65" y="502.40"><tspan>88% yield,</tspan></text>
<text x="594.08" y="502.38"><tspan>&gt;20:1</tspan></text>
<text x="614.85" y="502.37"><tspan>d.</tspan><tspan font-style="italic">r</tspan><tspan>., 99.5% e.e.</tspan></text>
<text x="527.60" y="511.93"><tspan>4</tspan></text>
<text x="533.46" y="511.93"><tspan>(</tspan><tspan font-weight="bold" stroke-width="0.3">4ay</tspan><tspan>),</tspan></text>
<text x="555.66" y="511.92"><tspan>83% yield,</tspan></text>
<text x="594.08" y="511.90"><tspan>&gt;20:1</tspan></text>
<text x="614.86" y="511.89"><tspan>d.</tspan><tspan font-style="italic">r</tspan><tspan>., 99.5% e.e.</tspan></text>
<text x="527.60" y="521.45"><tspan>5</tspan></text>
<text x="533.46" y="521.45"><tspan>(</tspan><tspan font-weight="bold" stroke-width="0.3">4az</tspan><tspan>),</tspan></text>
<text x="555.66" y="521.44"><tspan>81% yield,</tspan></text>
<text x="594.09" y="521.42"><tspan>&gt;20:1</tspan></text>
<text x="614.86" y="521.41"><tspan>d.</tspan><tspan font-style="italic">r</tspan><tspan>., 99% e.e.</tspan></text>
<text x="527.61" y="530.97"><tspan>6</tspan></text>
<text x="533.47" y="530.97"><tspan>(</tspan><tspan font-weight="bold" stroke-width="0.3">4ba</tspan><tspan>),</tspan></text>
<text x="555.67" y="530.96"><tspan>85% yield,</tspan></text>
<text x="594.09" y="530.94"><tspan>&gt;20:1</tspan></text>
<text x="614.87" y="530.93"><tspan>d.</tspan><tspan font-style="italic">r</tspan><tspan>., 99% e.e.</tspan></text>
<text x="527.61" y="540.49"><tspan>8</tspan></text>
<text x="533.47" y="540.49"><tspan>(</tspan><tspan font-weight="bold" stroke-width="0.3">4bb</tspan><tspan>),</tspan></text>
<text x="555.67" y="540.48"><tspan>82% yield,</tspan></text>
<text x="594.10" y="540.46"><tspan>&gt;20:1</tspan></text>
<text x="614.87" y="540.45"><tspan>d.</tspan><tspan font-style="italic">r</tspan><tspan>., 99% e.e.</tspan></text>
<text x="523.56" y="550.01"><tspan>14</tspan></text>
<text x="533.48" y="550.01"><tspan>(</tspan><tspan font-weight="bold" stroke-width="0.3">4bc</tspan><tspan>),</tspan></text>
<text x="555.68" y="550.00"><tspan>83% yield,</tspan></text>
<text x="594.10" y="549.98"><tspan>&gt;20:1</tspan></text>
<text x="614.88" y="549.97"><tspan>d.</tspan><tspan font-style="italic">r</tspan><tspan>., 99% e.e.</tspan></text>
<text x="83.20" y="479.32"><tspan>OH</tspan></text>
<text x="94.81" y="511.94"><tspan>NH</tspan><tspan font-size="5.40" dy="1.61">2</tspan></text>
<text x="105.98" y="479.21"><tspan>O</tspan></text>
<text x="117.38" y="498.93"><tspan>O</tspan><tspan font-size="5.40" dy="-2.63">t</tspan><tspan dy="2.63">Bu</tspan></text>
<text x="15.09" y="518.71"><tspan>R</tspan></text>
<text x="16.07" y="542.01"><tspan>R</tspan></text>
<text x="25.07" y="542.00"><tspan>=</tspan></text>
<text x="32.67" y="542.00"><tspan>H</tspan></text>
<text x="40.97" y="541.99"><tspan>(</tspan><tspan font-weight="bold" stroke-width="0.3">4am</tspan><tspan>):</tspan></text>
<text x="32.05" y="551.80"><tspan>Ph (</tspan><tspan font-weight="bold" stroke-width="0.3">4an</tspan><tspan>):</tspan></text>
<text x="70.27" y="541.98" font-size="7.27"><tspan>86% yield, 14:1 d.</tspan><tspan font-style="italic">r</tspan><tspan>., 99% e.e.</tspan></text>
<text x="70.28" y="551.58" font-size="7.22"><tspan>90% yield, 17:1 d.</tspan><tspan font-style="italic">r</tspan><tspan>., 99.6% e.e.</tspan></text>
<text x="225.70" y="478.45"><tspan>OH</tspan></text>
<text x="237.31" y="511.07"><tspan>NH</tspan><tspan font-size="5.40" dy="1.61">2</tspan></text>
<text x="248.48" y="478.34"><tspan>O</tspan></text>
<text x="259.87" y="498.06"><tspan>O</tspan><tspan font-size="5.40" dy="-2.63">t</tspan><tspan dy="2.63">Bu</tspan></text>
<text x="222.75" y="500.89" font-size="5.60"><tspan>3</tspan></text>
<text x="210.77" y="541.71" font-size="7.29"><tspan font-weight="bold" stroke-width="0.3">4ao</tspan><tspan>, 80% yield</tspan></text>
<text x="209.78" y="551.81" font-size="7.10"><tspan>18:1 d.</tspan><tspan font-style="italic">r</tspan><tspan>., 99% e.e.</tspan></text>
<text x="308.70" y="478.81"><tspan>OH</tspan></text>
<text x="320.31" y="511.43"><tspan>NH</tspan><tspan font-size="5.40" dy="1.61">2</tspan></text>
<text x="331.48" y="478.70"><tspan>O</tspan></text>
<text x="342.87" y="498.42"><tspan>O</tspan><tspan font-size="5.40" dy="-2.63">t</tspan><tspan dy="2.63">Bu</tspan></text>
<text x="301.52" y="541.66" font-size="7.29"><tspan font-weight="bold" stroke-width="0.3">4ap</tspan><tspan>, 85% yield</tspan></text>
<text x="294.78" y="551.77" font-size="7.30"><tspan>&gt;20:1 d.</tspan><tspan font-style="italic">r</tspan><tspan>., 99.5% e.e.</tspan></text>
<text x="438.20" y="479.14"><tspan>OH</tspan></text>
<text x="449.81" y="511.76"><tspan>NH</tspan><tspan font-size="5.40" dy="1.61">2</tspan></text>
<text x="460.98" y="479.03"><tspan>O</tspan></text>
<text x="472.38" y="498.75"><tspan>O</tspan><tspan font-size="5.40" dy="-2.63">t</tspan><tspan dy="2.63">Bu</tspan></text>
<text x="428.06" y="511.79" font-size="5.40"><tspan font-style="italic">n</tspan></text>
<text x="377.26" y="512.72"><tspan font-style="italic">n</tspan><tspan> variation</tspan></text>
<text x="377.26" y="522.42"><tspan>1 (</tspan><tspan font-weight="bold" stroke-width="0.3">4aq</tspan><tspan>),</tspan></text>
<text x="414.56" y="522.41"><tspan>91% yield, &gt;20:1 d.</tspan><tspan font-style="italic">r</tspan><tspan>., 99% e.e.</tspan></text>
<text x="377.27" y="532.07"><tspan>2 (</tspan><tspan font-weight="bold" stroke-width="0.3">4ar</tspan><tspan>),</tspan></text>
<text x="414.57" y="532.06"><tspan>82% yield, &gt;20:1 d.</tspan><tspan font-style="italic">r</tspan><tspan>., 99% e.e.</tspan></text>
<text x="377.27" y="541.72"><tspan>3 (</tspan><tspan font-weight="bold" stroke-width="0.3">4as</tspan><tspan>),</tspan></text>
<text x="414.57" y="541.71"><tspan>69% yield, &gt;20:1 d.</tspan><tspan font-style="italic">r</tspan><tspan>., 99% e.e.</tspan></text>
<text x="377.28" y="551.37"><tspan>4 (</tspan><tspan font-weight="bold" stroke-width="0.3">4at</tspan><tspan>),</tspan></text>
<text x="414.58" y="551.36"><tspan>76% yield, &gt;20:1 d.</tspan><tspan font-style="italic">r</tspan><tspan>., 99.5% e.e.</tspan></text>
<text x="74.45" y="582.53"><tspan>OH</tspan></text>
<text x="86.06" y="615.15"><tspan>NH</tspan><tspan font-size="5.40" dy="1.61">2</tspan></text>
<text x="97.23" y="582.41"><tspan>O</tspan></text>
<text x="108.63" y="602.13"><tspan>O</tspan><tspan font-size="5.40" dy="-2.63">t</tspan><tspan dy="2.63">Bu</tspan></text>
<text x="13.28" y="602.18"><tspan>Cl</tspan></text>
<text x="45.31" y="626.69" font-size="7.31"><tspan font-weight="bold" stroke-width="0.3">4bd</tspan><tspan>, 82% yield</tspan></text>
<text x="42.82" y="637.19" font-size="7.37"><tspan>&gt;20:1 d.</tspan><tspan font-style="italic">r</tspan><tspan>., 99% e.e.</tspan></text>
<text x="196.95" y="582.47"><tspan>OH</tspan></text>
<text x="208.56" y="615.08"><tspan>NH</tspan><tspan font-size="5.40" dy="1.61">2</tspan></text>
<text x="219.73" y="582.35"><tspan>O</tspan></text>
<text x="231.13" y="602.07"><tspan>O</tspan><tspan font-size="5.40" dy="-2.63">t</tspan><tspan dy="2.63">Bu</tspan></text>
<text x="163.20" y="602.11"><tspan>S</tspan></text>
<text x="184.06" y="626.62" font-size="7.29"><tspan font-weight="bold" stroke-width="0.3">4be</tspan><tspan>, 80% yield</tspan></text>
<text x="179.07" y="637.12" font-size="7.17"><tspan>&gt;20:1 d.</tspan><tspan font-style="italic">r</tspan><tspan>., 99.5% e.e.</tspan></text>
<text x="342.65" y="582.39"><tspan>OH</tspan></text>
<text x="354.26" y="615.01"><tspan>NH</tspan><tspan font-size="5.40" dy="1.61">2</tspan></text>
<text x="365.43" y="582.28"><tspan>O</tspan></text>
<text x="376.83" y="602.00"><tspan>O</tspan><tspan font-size="5.40" dy="-2.63">t</tspan><tspan dy="2.63">Bu</tspan></text>
<text x="319.88" y="595.45"><tspan>O</tspan></text>
<text x="322.81" y="626.55" font-size="7.43"><tspan font-weight="bold" stroke-width="0.3">4bf</tspan><tspan>, 85% yield</tspan></text>
<text x="319.57" y="637.05" font-size="7.37"><tspan>&gt;20:1 d.</tspan><tspan font-style="italic">r</tspan><tspan>., 99% e.e.</tspan></text>
<text x="477.45" y="582.32"><tspan>OH</tspan></text>
<text x="489.06" y="614.94"><tspan>NH</tspan><tspan font-size="5.40" dy="1.61">2</tspan></text>
<text x="500.23" y="582.21"><tspan>O</tspan></text>
<text x="511.63" y="601.93"><tspan>O</tspan><tspan font-size="5.40" dy="-2.63">t</tspan><tspan dy="2.63">Bu</tspan></text>
<text x="462.81" y="626.48" font-size="7.31"><tspan font-weight="bold" stroke-width="0.3">4bg</tspan><tspan>, 89% yield</tspan></text>
<text x="460.32" y="636.98" font-size="7.34"><tspan>&gt;20:1 d.</tspan><tspan font-style="italic">r</tspan><tspan>., 99% e.e.</tspan></text>
<text x="611.25" y="582.06"><tspan>OH</tspan></text>
<text x="622.86" y="614.68"><tspan>NH</tspan><tspan font-size="5.40" dy="1.61">2</tspan></text>
<text x="634.03" y="581.95"><tspan>O</tspan></text>
<text x="645.43" y="601.67"><tspan>O</tspan><tspan font-size="5.40" dy="-2.63">t</tspan><tspan dy="2.63">Bu</tspan></text>
<text x="577.10" y="614.85"><tspan>O</tspan></text>
<text x="565.71" y="595.13"><tspan>O</tspan></text>
<text x="607.90" y="604.90" font-size="5.60"><tspan>3</tspan></text>
<text x="603.41" y="626.41" font-size="7.41"><tspan font-weight="bold" stroke-width="0.3">4bh</tspan><tspan>, 80% yield</tspan></text>
<text x="601.22" y="636.91" font-size="7.21"><tspan>&gt;20:1 d.</tspan><tspan font-style="italic">r</tspan><tspan>., 99% e.e.</tspan></text>
<text x="65.49" y="662.63"><tspan>OH</tspan></text>
<text x="77.10" y="695.25"><tspan>NH</tspan><tspan font-size="5.40" dy="1.61">2</tspan></text>
<text x="88.27" y="662.52"><tspan>O</tspan></text>
<text x="99.67" y="682.24"><tspan>O</tspan><tspan font-size="5.40" dy="-2.63">t</tspan><tspan dy="2.63">Bu</tspan></text>
<text x="42.93" y="675.69"><tspan>N</tspan></text>
<text x="24.22" y="682.48"><tspan>Boc</tspan></text>
<text x="46.11" y="710.09" font-size="7.38"><tspan font-weight="bold" stroke-width="0.3">4bi</tspan><tspan>, 78% yield</tspan></text>
<text x="39.86" y="720.79" font-size="7.30"><tspan>&gt;20:1 d.</tspan><tspan font-style="italic">r</tspan><tspan>., 99.5% e.e.</tspan></text>
<text x="202.49" y="662.56"><tspan>OH</tspan></text>
<text x="214.10" y="695.18"><tspan>NH</tspan><tspan font-size="5.40" dy="1.61">2</tspan></text>
<text x="225.27" y="662.45"><tspan>O</tspan></text>
<text x="236.67" y="682.17"><tspan>O</tspan><tspan font-size="5.40" dy="-2.63">t</tspan><tspan dy="2.63">Bu</tspan></text>
<text x="168.54" y="682.20"><tspan>N</tspan></text>
<text x="168.80" y="688.19" font-size="6.60"><tspan>H</tspan></text>
<text x="156.94" y="662.49"><tspan>O</tspan></text>
<text x="136.63" y="682.22"><tspan>BnO</tspan></text>
<text x="170.36" y="710.03" font-size="7.50"><tspan font-weight="bold" stroke-width="0.3">4bj</tspan><tspan>, 79% yield</tspan></text>
<text x="167.36" y="720.73" font-size="7.34"><tspan>&gt;20:1 d.</tspan><tspan font-style="italic">r</tspan><tspan>., 99% e.e.</tspan></text>
<text x="354.99" y="662.49"><tspan>OH</tspan></text>
<text x="366.60" y="695.11"><tspan>NH</tspan><tspan font-size="5.40" dy="1.61">2</tspan></text>
<text x="377.77" y="662.37"><tspan>O</tspan></text>
<text x="389.17" y="682.09"><tspan>O</tspan><tspan font-size="5.40" dy="-2.63">t</tspan><tspan dy="2.63">Bu</tspan></text>
<text x="318.36" y="709.95" font-size="7.12"><tspan font-weight="bold" stroke-width="0.3">4bk</tspan><tspan font-size="5.27" dy="-2.56">d</tspan><tspan dy="2.56">, 84% yield</tspan></text>
<text x="313.36" y="720.66" font-size="7.59"><tspan>d.</tspan><tspan font-style="italic">r</tspan><tspan>.</tspan><tspan font-size="5.62" dy="-2.73">c</tspan><tspan dy="2.73">:  &gt;20:1 : - : -</tspan></text>
<text x="464.99" y="662.43"><tspan>OH</tspan></text>
<text x="476.60" y="695.05"><tspan>NH</tspan><tspan font-size="5.40" dy="1.61">2</tspan></text>
<text x="487.77" y="662.32"><tspan>O</tspan></text>
<text x="499.17" y="682.04"><tspan>O</tspan><tspan font-size="5.40" dy="-2.63">t</tspan><tspan dy="2.63">Bu</tspan></text>
<text x="442.43" y="675.49"><tspan>N</tspan></text>
<text x="442.68" y="669.18" font-size="6.60"><tspan>H</tspan></text>
<text x="423.72" y="682.28"><tspan>Boc</tspan></text>
<text x="445.36" y="709.89" font-size="7.38"><tspan font-weight="bold" stroke-width="0.3">4bl</tspan><tspan>, 90% yield</tspan></text>
<text x="440.36" y="720.59" font-size="7.78"><tspan>d.</tspan><tspan font-style="italic">r</tspan><tspan>.</tspan><tspan font-size="5.75" dy="-2.80">c</tspan><tspan dy="2.80">: &gt;20:1 : - : -</tspan></text>
<text x="640.85" y="692.28"><tspan font-weight="bold" stroke-width="0.3">4a</tspan></text>
<text x="641.57" y="733.48"><tspan font-weight="bold" stroke-width="0.3">4an</tspan></text>
</g>
</svg>
</body></html>
